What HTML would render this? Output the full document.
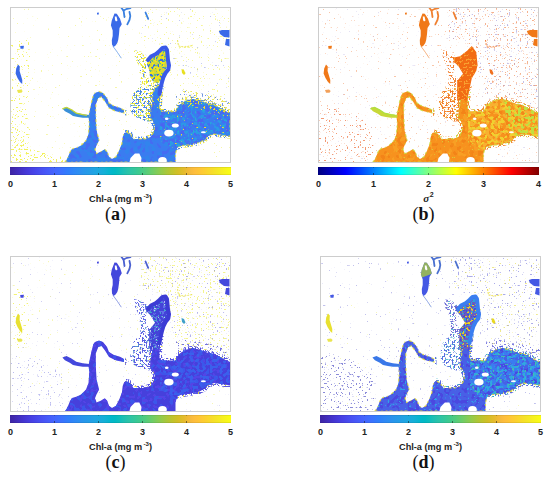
<!DOCTYPE html>
<html><head><meta charset="utf-8"><style>
html,body{margin:0;padding:0;background:#fff;}
body{width:550px;height:479px;position:relative;overflow:hidden;font-family:"Liberation Sans",sans-serif;}
.map{position:absolute;display:block;filter:blur(0.35px);}
.cb{position:absolute;width:221px;height:8px;box-shadow:inset 0 1px 0 rgba(0,0,0,.08),inset 0 -1px 0 rgba(0,0,0,.08);}
.tm{position:absolute;width:1px;background:#111;}
.tk{position:absolute;width:20px;text-align:center;font-weight:bold;font-size:9px;line-height:10px;color:#222;}
.lab{position:absolute;width:100px;text-align:center;font-weight:bold;font-size:9.2px;line-height:10px;color:#222;white-space:nowrap;}
.lab sup{font-size:6px;vertical-align:0;position:relative;top:-3.5px;margin-left:1.5px;}
.sig{font-family:"Liberation Serif",serif;font-style:italic;font-size:11px;}
.s2{font-family:"Liberation Sans",sans-serif;font-style:normal;font-size:7px;position:relative;top:-4.5px;margin-left:0.5px;}
.cap{position:absolute;width:60px;text-align:center;font-family:"Liberation Serif",serif;font-size:18px;line-height:20px;color:#111;}
</style></head><body>
<svg class="map" style="left:10px;top:7px" width="221" height="156" viewBox="0 0 221 156">
<defs><filter id="fa1" x="0" y="0" width="100%" height="100%" color-interpolation-filters="sRGB"><feTurbulence type="fractalNoise" baseFrequency="0.55" numOctaves="1" seed="1"/><feColorMatrix type="matrix" values="0 0 0 0 0.941 0 0 0 0 0.941 0 0 0 0 0.439 25.0 0 0 0 -17.80"/></filter><clipPath id="ca2"><polygon points="1.0,1.0 220.0,1.0 220.0,155.0 1.0,155.0"/></clipPath><filter id="fa3" x="0" y="0" width="100%" height="100%" color-interpolation-filters="sRGB"><feTurbulence type="fractalNoise" baseFrequency="0.55" numOctaves="1" seed="2"/><feColorMatrix type="matrix" values="0 0 0 0 0.941 0 0 0 0 0.941 0 0 0 0 0.251 25.0 0 0 0 -15.43"/></filter><clipPath id="ca4"><polygon points="1.0,93.0 14.0,93.0 20.0,123.0 18.0,143.0 1.0,143.0"/></clipPath><filter id="fa5" x="0" y="0" width="100%" height="100%" color-interpolation-filters="sRGB"><feTurbulence type="fractalNoise" baseFrequency="0.5" numOctaves="1" seed="3"/><feColorMatrix type="matrix" values="0 0 0 0 0.941 0 0 0 0 0.941 0 0 0 0 0.251 25.0 0 0 0 -14.89"/></filter><clipPath id="ca6"><polygon points="1.0,141.0 20.0,142.0 35.0,146.0 52.0,150.0 54.0,155.0 1.0,155.0"/></clipPath><filter id="fa7" x="0" y="0" width="100%" height="100%" color-interpolation-filters="sRGB"><feTurbulence type="fractalNoise" baseFrequency="0.55" numOctaves="1" seed="4"/><feColorMatrix type="matrix" values="0 0 0 0 0.941 0 0 0 0 0.941 0 0 0 0 0.314 25.0 0 0 0 -17.03"/></filter><clipPath id="ca8"><polygon points="130.0,1.0 220.0,1.0 220.0,103.0 205.0,97.0 185.0,90.0 170.0,93.0 162.0,73.0 155.0,38.0 130.0,33.0"/></clipPath><filter id="fa9" x="0" y="0" width="100%" height="100%" color-interpolation-filters="sRGB"><feTurbulence type="fractalNoise" baseFrequency="0.55" numOctaves="1" seed="5"/><feColorMatrix type="matrix" values="0 0 0 0 0.502 0 0 0 0 0.565 0 0 0 0 0.878 25.0 0 0 0 -18.04"/></filter><filter id="fa10" x="0" y="0" width="100%" height="100%" color-interpolation-filters="sRGB"><feTurbulence type="fractalNoise" baseFrequency="0.5" numOctaves="1" seed="6"/><feColorMatrix type="matrix" values="0 0 0 0 0.910 0 0 0 0 0.878 0 0 0 0 0.251 25.0 0 0 0 -15.14"/></filter><clipPath id="ca11"><polygon points="165.0,86.0 175.0,83.0 185.0,84.0 195.0,87.0 205.0,89.0 215.0,91.0 221.0,94.0 221.0,105.0 210.0,99.0 190.0,93.0 175.0,93.0 168.0,97.0"/></clipPath><filter id="fa12" x="0" y="0" width="100%" height="100%" color-interpolation-filters="sRGB"><feTurbulence type="fractalNoise" baseFrequency="0.5" numOctaves="1" seed="7"/><feColorMatrix type="matrix" values="0 0 0 0 0.314 0 0 0 0 0.502 0 0 0 0 0.910 25.0 0 0 0 -16.16"/></filter><filter id="fa13" x="0" y="0" width="100%" height="100%" color-interpolation-filters="sRGB"><feTurbulence type="fractalNoise" baseFrequency="0.55" numOctaves="1" seed="8"/><feColorMatrix type="matrix" values="0 0 0 0 0.941 0 0 0 0 0.941 0 0 0 0 0.251 25.0 0 0 0 -16.40"/></filter><clipPath id="ca14"><polygon points="1.0,33.0 20.0,33.0 20.0,93.0 1.0,93.0"/></clipPath><filter id="fa15" x="0" y="0" width="100%" height="100%" color-interpolation-filters="sRGB"><feTurbulence type="fractalNoise" baseFrequency="0.55" numOctaves="1" seed="9"/><feColorMatrix type="matrix" values="0 0 0 0 0.925 0 0 0 0 0.910 0 0 0 0 0.125 25.0 0 0 0 -13.40"/></filter><clipPath id="ca16"><polygon points="124.0,43.0 132.0,45.0 138.0,50.0 136.0,59.0 136.0,68.0 140.0,73.0 148.0,75.0 151.0,80.0 145.0,81.0 130.0,81.0 130.0,79.0 131.0,69.0 129.0,59.0 125.0,51.0"/></clipPath><filter id="fa17" x="0" y="0" width="100%" height="100%" color-interpolation-filters="sRGB"><feTurbulence type="fractalNoise" baseFrequency="0.6" numOctaves="1" seed="10"/><feColorMatrix type="matrix" values="0 0 0 0 0.227 0 0 0 0 0.471 0 0 0 0 0.941 25.0 0 0 0 -16.16"/></filter><filter id="fa18" x="0" y="0" width="100%" height="100%" color-interpolation-filters="sRGB"><feTurbulence type="fractalNoise" baseFrequency="0.5" numOctaves="1" seed="11"/><feColorMatrix type="matrix" values="0 0 0 0 0.925 0 0 0 0 0.910 0 0 0 0 0.125 25.0 0 0 0 -13.40"/></filter><clipPath id="ca19"><polygon points="128.0,81.0 145.0,81.0 143.0,86.0 142.5,93.0 141.0,103.0 140.0,111.0 142.8,114.1 136.0,114.5 130.0,112.0 124.0,109.0 120.0,103.0 121.0,93.0 124.0,85.0"/></clipPath><filter id="fa20" x="0" y="0" width="100%" height="100%" color-interpolation-filters="sRGB"><feTurbulence type="fractalNoise" baseFrequency="0.5" numOctaves="1" seed="12"/><feColorMatrix type="matrix" values="0 0 0 0 0.227 0 0 0 0 0.471 0 0 0 0 0.941 25.0 0 0 0 -13.80"/></filter><filter id="fa21" x="0" y="0" width="100%" height="100%" color-interpolation-filters="sRGB"><feTurbulence type="fractalNoise" baseFrequency="0.6" numOctaves="1" seed="13"/><feColorMatrix type="matrix" values="0 0 0 0 0.439 0 0 0 0 0.753 0 0 0 0 0.565 25.0 0 0 0 -15.76"/></filter><mask id="ma22"><polygon points="55.0,155.0 56.5,153.0 58.0,150.0 60.0,145.0 62.0,142.0 67.0,140.5 71.0,138.5 76.0,133.5 78.5,127.0 79.3,116.0 78.5,110.0 80.0,102.0 81.8,94.0 83.4,88.0 85.0,86.0 89.0,84.5 93.0,86.0 97.0,91.0 99.0,96.0 104.0,99.0 110.0,100.8 114.0,103.0 114.0,106.0 109.0,105.0 105.0,104.0 99.0,101.0 95.0,94.5 91.5,90.0 88.3,91.0 85.8,97.5 85.8,110.6 86.6,123.6 89.1,133.4 86.6,138.3 85.0,142.3 86.6,146.4 90.7,144.8 94.8,142.3 97.2,144.8 99.0,149.7 102.0,152.0 106.0,149.7 109.4,143.0 111.9,136.6 112.7,130.0 114.3,126.0 116.8,125.2 120.0,127.0 123.5,132.0 130.7,132.0 135.4,131.9 140.7,129.8 143.8,124.6 144.8,119.3 142.8,114.1 140.0,111.0 141.0,103.0 142.5,93.0 143.0,86.0 145.0,81.0 148.0,79.0 151.0,80.0 150.2,88.0 149.5,97.0 149.5,102.0 152.0,104.5 160.5,104.6 165.3,104.8 169.1,98.0 175.0,94.1 182.7,92.1 190.5,94.1 198.3,97.0 204.1,98.0 209.0,100.5 213.6,103.0 217.3,105.0 220.0,106.0 220.0,129.4 211.9,128.1 204.1,127.1 198.3,129.0 194.4,132.9 188.6,135.8 178.9,137.8 171.1,138.8 167.2,140.7 165.5,146.5 165.5,155.0" fill="none" stroke="#fff" stroke-width="5"/></mask><filter id="fa23" x="0" y="0" width="100%" height="100%" color-interpolation-filters="sRGB"><feTurbulence type="fractalNoise" baseFrequency="0.6" numOctaves="1" seed="14"/><feColorMatrix type="matrix" values="0 0 0 0 0.910 0 0 0 0 0.878 0 0 0 0 0.188 25.0 0 0 0 -13.40"/></filter><filter id="fa24" x="0" y="0" width="100%" height="100%" color-interpolation-filters="sRGB"><feTurbulence type="fractalNoise" baseFrequency="0.6" numOctaves="1" seed="15"/><feColorMatrix type="matrix" values="0 0 0 0 0.227 0 0 0 0 0.486 0 0 0 0 0.941 25.0 0 0 0 -13.80"/></filter><clipPath id="ca25"><polygon points="115.0,73.0 221.0,73.0 221.0,133.0 175.0,141.0 166.0,143.0 140.0,135.0 115.0,128.0"/></clipPath><filter id="fa26" x="0" y="0" width="100%" height="100%" color-interpolation-filters="sRGB"><feTurbulence type="fractalNoise" baseFrequency="0.2" numOctaves="1" seed="16"/><feColorMatrix type="matrix" values="0 0 0 0 0.188 0 0 0 0 0.533 0 0 0 0 0.925 25.0 0 0 0 -13.40"/></filter><clipPath id="ca27"><polygon points="55.0,155.0 56.5,153.0 58.0,150.0 60.0,145.0 62.0,142.0 67.0,140.5 71.0,138.5 76.0,133.5 78.5,127.0 79.3,116.0 78.5,110.0 80.0,102.0 81.8,94.0 83.4,88.0 85.0,86.0 89.0,84.5 93.0,86.0 97.0,91.0 99.0,96.0 104.0,99.0 110.0,100.8 114.0,103.0 114.0,106.0 109.0,105.0 105.0,104.0 99.0,101.0 95.0,94.5 91.5,90.0 88.3,91.0 85.8,97.5 85.8,110.6 86.6,123.6 89.1,133.4 86.6,138.3 85.0,142.3 86.6,146.4 90.7,144.8 94.8,142.3 97.2,144.8 99.0,149.7 102.0,152.0 106.0,149.7 109.4,143.0 111.9,136.6 112.7,130.0 114.3,126.0 116.8,125.2 120.0,127.0 123.5,132.0 130.7,132.0 135.4,131.9 140.7,129.8 143.8,124.6 144.8,119.3 142.8,114.1 140.0,111.0 141.0,103.0 142.5,93.0 143.0,86.0 145.0,81.0 148.0,79.0 151.0,80.0 150.2,88.0 149.5,97.0 149.5,102.0 152.0,104.5 160.5,104.6 165.3,104.8 169.1,98.0 175.0,94.1 182.7,92.1 190.5,94.1 198.3,97.0 204.1,98.0 209.0,100.5 213.6,103.0 217.3,105.0 220.0,106.0 220.0,129.4 211.9,128.1 204.1,127.1 198.3,129.0 194.4,132.9 188.6,135.8 178.9,137.8 171.1,138.8 167.2,140.7 165.5,146.5 165.5,155.0"/></clipPath><filter id="fa28" x="0" y="0" width="100%" height="100%" color-interpolation-filters="sRGB"><feTurbulence type="fractalNoise" baseFrequency="0.25" numOctaves="1" seed="17"/><feColorMatrix type="matrix" values="0 0 0 0 0.290 0 0 0 0 0.400 0 0 0 0 0.949 25.0 0 0 0 -14.25"/></filter><filter id="fa29" x="0" y="0" width="100%" height="100%" color-interpolation-filters="sRGB"><feTurbulence type="fractalNoise" baseFrequency="0.25" numOctaves="1" seed="18"/><feColorMatrix type="matrix" values="0 0 0 0 0.165 0 0 0 0 0.627 0 0 0 0 0.894 25.0 0 0 0 -14.07"/></filter><clipPath id="ca30"><polygon points="150.0,88.0 221.0,88.0 221.0,133.0 195.0,135.0 165.0,143.0 150.0,133.0"/></clipPath><filter id="fa31" x="0" y="0" width="100%" height="100%" color-interpolation-filters="sRGB"><feTurbulence type="fractalNoise" baseFrequency="0.25" numOctaves="1" seed="19"/><feColorMatrix type="matrix" values="0 0 0 0 0.314 0 0 0 0 0.376 0 0 0 0 0.941 25.0 0 0 0 -14.45"/></filter><filter id="fa32" x="0" y="0" width="100%" height="100%" color-interpolation-filters="sRGB"><feTurbulence type="fractalNoise" baseFrequency="0.4" numOctaves="1" seed="20"/><feColorMatrix type="matrix" values="0 0 0 0 0.133 0 0 0 0 0.722 0 0 0 0 0.816 25.0 0 0 0 -16.40"/></filter><filter id="fa33" x="0" y="0" width="100%" height="100%" color-interpolation-filters="sRGB"><feTurbulence type="fractalNoise" baseFrequency="0.55" numOctaves="1" seed="21"/><feColorMatrix type="matrix" values="0 0 0 0 0.910 0 0 0 0 0.878 0 0 0 0 0.188 25.0 0 0 0 -17.49"/></filter><filter id="fa34" x="0" y="0" width="100%" height="100%" color-interpolation-filters="sRGB"><feTurbulence type="fractalNoise" baseFrequency="0.5" numOctaves="1" seed="22"/><feColorMatrix type="matrix" values="0 0 0 0 0.910 0 0 0 0 0.878 0 0 0 0 0.188 25.0 0 0 0 -14.77"/></filter><clipPath id="ca35"><polygon points="140.0,91.0 220.0,91.0 220.0,111.0 190.0,101.0 170.0,99.0 150.0,105.0"/></clipPath><filter id="fa36" x="0" y="0" width="100%" height="100%" color-interpolation-filters="sRGB"><feTurbulence type="fractalNoise" baseFrequency="0.4" numOctaves="1" seed="23"/><feColorMatrix type="matrix" values="0 0 0 0 0.227 0 0 0 0 0.439 0 0 0 0 0.910 25.0 0 0 0 -14.25"/></filter><clipPath id="ca37"><polygon points="139.0,52.0 142.0,50.0 147.0,48.0 150.0,45.5 153.0,43.0 155.5,43.0 156.0,48.0 156.5,55.0 157.0,59.0 155.0,64.0 152.5,69.0 151.0,73.0 148.0,76.0 143.0,74.0 140.0,70.0 139.5,64.0 137.0,57.0"/></clipPath><filter id="fa38" x="0" y="0" width="100%" height="100%" color-interpolation-filters="sRGB"><feTurbulence type="fractalNoise" baseFrequency="0.45" numOctaves="1" seed="24"/><feColorMatrix type="matrix" values="0 0 0 0 0.376 0 0 0 0 0.753 0 0 0 0 0.502 25.0 0 0 0 -14.45"/></filter><filter id="fa39" x="0" y="0" width="100%" height="100%" color-interpolation-filters="sRGB"><feTurbulence type="fractalNoise" baseFrequency="0.4" numOctaves="1" seed="25"/><feColorMatrix type="matrix" values="0 0 0 0 0.941 0 0 0 0 0.910 0 0 0 0 0.094 25.0 0 0 0 -13.80"/></filter></defs>
<rect x="1.0" y="1.0" width="219.0" height="154.0" clip-path="url(#ca2)" filter="url(#fa1)" opacity="0.60"/>
<rect x="1.0" y="93.0" width="19.0" height="50.0" clip-path="url(#ca4)" filter="url(#fa3)" opacity="0.80"/>
<rect x="1.0" y="141.0" width="53.0" height="14.0" clip-path="url(#ca6)" filter="url(#fa5)" opacity="0.85"/>
<rect x="130.0" y="1.0" width="90.0" height="102.0" clip-path="url(#ca8)" filter="url(#fa7)" opacity="0.60"/>
<rect x="130.0" y="1.0" width="90.0" height="102.0" clip-path="url(#ca8)" filter="url(#fa9)" opacity="0.50"/>
<rect x="165.0" y="83.0" width="55.0" height="22.0" clip-path="url(#ca11)" filter="url(#fa10)" opacity="0.80"/>
<rect x="165.0" y="83.0" width="55.0" height="22.0" clip-path="url(#ca11)" filter="url(#fa12)" opacity="0.80"/>
<rect x="1.0" y="33.0" width="19.0" height="60.0" clip-path="url(#ca14)" filter="url(#fa13)" opacity="0.80"/>
<rect x="124.0" y="43.0" width="27.0" height="38.0" clip-path="url(#ca16)" filter="url(#fa15)" opacity="0.90"/>
<rect x="124.0" y="43.0" width="27.0" height="38.0" clip-path="url(#ca16)" filter="url(#fa17)" opacity="0.80"/>
<rect x="120.0" y="81.0" width="25.0" height="33.5" clip-path="url(#ca19)" filter="url(#fa18)" opacity="0.90"/>
<rect x="120.0" y="81.0" width="25.0" height="33.5" clip-path="url(#ca19)" filter="url(#fa20)" opacity="0.90"/>
<rect x="120.0" y="81.0" width="25.0" height="33.5" clip-path="url(#ca19)" filter="url(#fa21)" opacity="0.80"/>
<g clip-path="url(#ca25)"><g mask="url(#ma22)"><rect x="1.0" y="1.0" width="219.0" height="154.0" clip-path="url(#ca2)" filter="url(#fa23)" opacity="0.90"/><rect x="1.0" y="1.0" width="219.0" height="154.0" clip-path="url(#ca2)" filter="url(#fa24)" opacity="0.90"/></g></g>
<polygon points="55.0,155.0 56.5,153.0 58.0,150.0 60.0,145.0 62.0,142.0 67.0,140.5 71.0,138.5 76.0,133.5 78.5,127.0 79.3,116.0 78.5,110.0 80.0,102.0 81.8,94.0 83.4,88.0 85.0,86.0 89.0,84.5 93.0,86.0 97.0,91.0 99.0,96.0 104.0,99.0 110.0,100.8 114.0,103.0 114.0,106.0 109.0,105.0 105.0,104.0 99.0,101.0 95.0,94.5 91.5,90.0 88.3,91.0 85.8,97.5 85.8,110.6 86.6,123.6 89.1,133.4 86.6,138.3 85.0,142.3 86.6,146.4 90.7,144.8 94.8,142.3 97.2,144.8 99.0,149.7 102.0,152.0 106.0,149.7 109.4,143.0 111.9,136.6 112.7,130.0 114.3,126.0 116.8,125.2 120.0,127.0 123.5,132.0 130.7,132.0 135.4,131.9 140.7,129.8 143.8,124.6 144.8,119.3 142.8,114.1 140.0,111.0 141.0,103.0 142.5,93.0 143.0,86.0 145.0,81.0 148.0,79.0 151.0,80.0 150.2,88.0 149.5,97.0 149.5,102.0 152.0,104.5 160.5,104.6 165.3,104.8 169.1,98.0 175.0,94.1 182.7,92.1 190.5,94.1 198.3,97.0 204.1,98.0 209.0,100.5 213.6,103.0 217.3,105.0 220.0,106.0 220.0,129.4 211.9,128.1 204.1,127.1 198.3,129.0 194.4,132.9 188.6,135.8 178.9,137.8 171.1,138.8 167.2,140.7 165.5,146.5 165.5,155.0" fill="#3a7cf0"/>
<g clip-path="url(#ca27)"><rect x="55.0" y="79.0" width="165.0" height="76.0" clip-path="url(#ca27)" filter="url(#fa26)" opacity="0.70"/><rect x="55.0" y="79.0" width="165.0" height="76.0" clip-path="url(#ca27)" filter="url(#fa28)" opacity="0.70"/><rect x="150.0" y="88.0" width="70.0" height="55.0" clip-path="url(#ca30)" filter="url(#fa29)" opacity="0.80"/><rect x="150.0" y="88.0" width="70.0" height="55.0" clip-path="url(#ca30)" filter="url(#fa31)" opacity="0.80"/><rect x="150.0" y="88.0" width="70.0" height="55.0" clip-path="url(#ca30)" filter="url(#fa32)" opacity="0.80"/><rect x="150.0" y="88.0" width="70.0" height="55.0" clip-path="url(#ca30)" filter="url(#fa33)"/><rect x="140.0" y="91.0" width="80.0" height="20.0" clip-path="url(#ca35)" filter="url(#fa34)"/></g>
<polygon points="55.0,155.0 56.5,153.0 58.0,150.0 60.0,145.0 62.0,142.0 67.0,140.5 71.0,138.5 76.0,133.5 78.5,127.0 79.3,116.0 78.5,110.0 80.0,102.0 81.8,94.0 83.4,88.0 85.0,86.0 89.0,84.5 93.0,86.0 97.0,91.0 99.0,96.0 104.0,99.0 110.0,100.8 114.0,103.0 114.0,106.0 109.0,105.0 105.0,104.0 99.0,101.0 95.0,94.5 91.5,90.0 88.3,91.0 85.8,97.5 85.8,110.6 86.6,123.6 89.1,133.4 86.6,138.3 85.0,142.3 86.6,146.4 90.7,144.8 94.8,142.3 97.2,144.8 99.0,149.7 102.0,152.0 106.0,149.7 109.4,143.0 111.9,136.6 112.7,130.0 114.3,126.0 116.8,125.2 120.0,127.0 123.5,132.0 130.7,132.0 135.4,131.9 140.7,129.8 143.8,124.6 144.8,119.3 142.8,114.1 140.0,111.0 141.0,103.0 142.5,93.0 143.0,86.0 145.0,81.0 148.0,79.0 151.0,80.0 150.2,88.0 149.5,97.0 149.5,102.0 152.0,104.5 160.5,104.6 165.3,104.8 169.1,98.0 175.0,94.1 182.7,92.1 190.5,94.1 198.3,97.0 204.1,98.0 209.0,100.5 213.6,103.0 217.3,105.0 220.0,106.0 220.0,129.4 211.9,128.1 204.1,127.1 198.3,129.0 194.4,132.9 188.6,135.8 178.9,137.8 171.1,138.8 167.2,140.7 165.5,146.5 165.5,155.0" fill="none" stroke="#e8e030" stroke-width="1.2" stroke-dasharray="2 3 1 4 3 2" opacity="0.8"/>
<polygon points="139.0,52.0 142.0,50.0 147.0,48.0 150.0,45.5 153.0,43.0 155.5,43.0 156.0,48.0 156.5,55.0 157.0,59.0 155.0,64.0 152.5,69.0 151.0,73.0 148.0,76.0 143.0,74.0 140.0,70.0 139.5,64.0 137.0,57.0" fill="#d4d43a"/>
<rect x="137.0" y="43.0" width="20.0" height="33.0" clip-path="url(#ca37)" filter="url(#fa36)"/>
<rect x="137.0" y="43.0" width="20.0" height="33.0" clip-path="url(#ca37)" filter="url(#fa38)"/>
<rect x="137.0" y="43.0" width="20.0" height="33.0" clip-path="url(#ca37)" filter="url(#fa39)"/>
<polyline points="138.0,53.0 141.0,49.5 146.0,47.0 149.5,44.0 152.5,41.0 155.5,40.5 157.0,43.0 157.5,48.0 158.0,53.5 159.0,58.5 158.3,62.5 155.5,66.0 153.5,70.0 152.0,75.0 150.5,81.0 149.5,87.0" fill="none" stroke="#3a5ae8" stroke-width="4" stroke-linejoin="round" stroke-linecap="round"/>
<polygon points="104.5,6.4 106.8,6.8 110.0,11.8 111.8,17.3 109.5,20.9 109.0,27.3 108.2,33.0 107.3,36.0 105.6,38.5 103.5,40.0 102.0,37.5 101.8,33.0 102.7,29.1 102.7,23.6 100.9,18.2 101.8,13.6" fill="#3a6ae8"/>
<polygon points="208.8,24.0 212.0,22.9 219.5,23.0 219.5,30.5 214.0,30.0 210.0,27.0" fill="#3a6ae8"/>
<polygon points="216.0,32.0 219.5,32.0 219.5,39.6 215.0,38.0" fill="#3a6ae8"/>
<polygon points="10.2,39.0 13.9,38.8 13.5,41.8 10.5,41.8" fill="#3a6ae8"/>
<polygon points="87.0,5.8 88.8,5.6 88.8,7.4 87.0,7.4" fill="#3a6ae8"/>
<polygon points="52.4,101.6 56.5,100.0 61.4,102.4 66.3,105.7 72.8,107.3 79.3,108.1 79.3,110.8 72.8,110.8 67.9,110.0 63.0,109.0 59.8,106.8 54.9,104.3" fill="#3a90d8"/>
<polyline points="52.4,101.9 56.5,100.4 61.4,102.8 66.3,106.1 72.8,107.7 77.0,108.4" fill="none" stroke="#c8d830" stroke-width="1.2"/>
<polygon points="8.0,57.5 9.8,59.5 9.6,64.0 10.8,68.0 12.3,73.0 12.2,77.0 10.0,75.0 7.5,71.0 5.6,66.5 6.2,61.5" fill="#3a6ae8"/>
<polygon points="7.0,83.0 11.0,82.5 12.7,84.0 11.5,85.8 8.0,85.8" fill="#e8e030" opacity="0.85"/>
<polyline points="103.0,39.5 105.0,42.0 107.5,45.5 111.3,51.2" fill="none" stroke="#3a80e0" stroke-width="1" opacity="0.6"/>
<polygon points="171.5,62.0 174.0,63.0 175.5,66.5 174.0,68.0 172.0,66.0" fill="#e8e020"/>
<polyline points="167.5,33.0 168.5,39.0 174.0,40.0 180.0,39.0 183.0,38.5" fill="none" stroke="#e8e020" stroke-width="1" stroke-dasharray="2 1" opacity="0.8"/>
<polygon points="104.8,9.5 106.5,9.5 107.5,13.5 106.0,14.5 105.0,13.0" fill="#fff"/>
<polyline points="111.5,1.0 113.6,3.6 114.5,10.0" fill="none" stroke="#3a80e0" stroke-width="1.8" stroke-linecap="round"/>
<polyline points="113.5,3.5 117.0,1.8 120.5,1.0" fill="none" stroke="#3a80e0" stroke-width="1.8" stroke-linecap="round"/>
<polyline points="119.5,5.0 120.3,9.0 119.5,13.0 117.3,17.3" fill="none" stroke="#3a80e0" stroke-width="1.8" stroke-linecap="round"/>
<polyline points="135.5,5.5 138.2,11.8" fill="none" stroke="#3a80e0" stroke-width="1.8" stroke-linecap="round"/>
<ellipse cx="165.3" cy="118.4" rx="3.5" ry="2.0" fill="#fff"/><ellipse cx="158.9" cy="126.1" rx="4.7" ry="3.4" fill="#fff"/><ellipse cx="156.7" cy="111.8" rx="1.8" ry="1.3" fill="#fff"/><ellipse cx="193.4" cy="125.2" rx="2.5" ry="1.0" fill="#fff"/><ellipse cx="152.5" cy="153.5" rx="4.3" ry="3.5" fill="#fff"/><polygon points="120.5,151.0 124.9,146.6 129.3,146.6 131.5,151.0 131.0,155.0 119.5,155.0" fill="#fff"/>
<rect x="0.5" y="0.5" width="220" height="155" fill="none" stroke="#cdcdcd" stroke-width="1"/>
</svg>
<div class="cb" style="left:10px;top:167px;background:linear-gradient(to right,#3e26a8 0.78%,#402ab4 2.34%,#422ec0 3.91%,#4332cb 5.47%,#4537d5 7.03%,#463cde 8.59%,#4741e5 10.16%,#4747eb 11.72%,#484df0 13.28%,#4852f4 14.84%,#4758f8 16.41%,#465efb 17.97%,#4563fd 19.53%,#4269fe 21.09%,#3e6fff 22.66%,#3875fe 24.22%,#327cfc 25.78%,#2f81fa 27.34%,#2e87f7 28.91%,#2d8cf3 30.47%,#2b91ef 32.03%,#2797eb 33.59%,#259be8 35.16%,#23a0e5 36.72%,#20a5e3 38.28%,#1ca9df 39.84%,#18addb 41.41%,#12b1d6 42.97%,#08b5d0 44.53%,#01b8ca 46.09%,#02bac3 47.66%,#0bbdbd 49.22%,#19bfb6 50.78%,#24c1ae 52.34%,#2cc4a7 53.91%,#31c69f 55.47%,#37c897 57.03%,#3fca8e 58.59%,#4acb84 60.16%,#57cc7a 61.72%,#64cd6f 63.28%,#72cd64 64.84%,#81cc59 66.41%,#8fcb4e 67.97%,#9dc943 69.53%,#abc739 71.09%,#b9c431 72.66%,#c5c22a 74.22%,#d1bf27 75.78%,#dcbd29 77.34%,#e6bb2d 78.91%,#f0ba36 80.47%,#f8ba3d 82.03%,#febe3c 83.59%,#fec338 85.16%,#fec934 86.72%,#fccf30 88.28%,#fad62d 89.84%,#f7dc2a 91.41%,#f5e327 92.97%,#f5e924 94.53%,#f6ef20 96.09%,#f7f51b 97.66%,#f9fb15 99.22%)"></div>
<div class="tm" style="left:54.0px;top:173px;height:2px;opacity:.5"></div>
<div class="tm" style="left:54.0px;top:167px;height:1px;opacity:.25"></div>
<div class="tm" style="left:98.0px;top:173px;height:2px;opacity:.5"></div>
<div class="tm" style="left:98.0px;top:167px;height:1px;opacity:.25"></div>
<div class="tm" style="left:142.0px;top:173px;height:2px;opacity:.5"></div>
<div class="tm" style="left:142.0px;top:167px;height:1px;opacity:.25"></div>
<div class="tm" style="left:186.0px;top:173px;height:2px;opacity:.5"></div>
<div class="tm" style="left:186.0px;top:167px;height:1px;opacity:.25"></div>
<div class="tk" style="left:0.5px;top:179.0px">0</div>
<div class="tk" style="left:44.5px;top:179.0px">1</div>
<div class="tk" style="left:88.5px;top:179.0px">2</div>
<div class="tk" style="left:132.5px;top:179.0px">3</div>
<div class="tk" style="left:176.5px;top:179.0px">4</div>
<div class="tk" style="left:220.5px;top:179.0px">5</div>
<div class="lab" style="left:70.5px;top:193.5px">Chl-a (mg m<sup>-3</sup>)</div>
<div class="cap" style="left:85.5px;top:203.7px">(<b>a</b>)</div>
<svg class="map" style="left:318px;top:7px" width="221" height="156" viewBox="0 0 221 156">
<defs><filter id="fb1" x="0" y="0" width="100%" height="100%" color-interpolation-filters="sRGB"><feTurbulence type="fractalNoise" baseFrequency="0.55" numOctaves="1" seed="26"/><feColorMatrix type="matrix" values="0 0 0 0 0.957 0 0 0 0 0.627 0 0 0 0 0.439 25.0 0 0 0 -17.49"/></filter><clipPath id="cb2"><polygon points="1.0,1.0 220.0,1.0 220.0,155.0 1.0,155.0"/></clipPath><filter id="fb3" x="0" y="0" width="100%" height="100%" color-interpolation-filters="sRGB"><feTurbulence type="fractalNoise" baseFrequency="0.55" numOctaves="1" seed="27"/><feColorMatrix type="matrix" values="0 0 0 0 0.784 0 0 0 0 0.753 0 0 0 0 0.910 25.0 0 0 0 -18.04"/></filter><filter id="fb4" x="0" y="0" width="100%" height="100%" color-interpolation-filters="sRGB"><feTurbulence type="fractalNoise" baseFrequency="0.55" numOctaves="1" seed="28"/><feColorMatrix type="matrix" values="0 0 0 0 0.941 0 0 0 0 0.502 0 0 0 0 0.314 25.0 0 0 0 -16.40"/></filter><clipPath id="cb5"><polygon points="1.0,98.0 30.0,103.0 52.0,118.0 56.0,143.0 52.0,155.0 1.0,155.0"/></clipPath><filter id="fb6" x="0" y="0" width="100%" height="100%" color-interpolation-filters="sRGB"><feTurbulence type="fractalNoise" baseFrequency="0.55" numOctaves="1" seed="29"/><feColorMatrix type="matrix" values="0 0 0 0 0.941 0 0 0 0 0.565 0 0 0 0 0.376 25.0 0 0 0 -16.40"/></filter><clipPath id="cb7"><polygon points="130.0,1.0 220.0,1.0 220.0,103.0 205.0,97.0 185.0,90.0 170.0,93.0 162.0,73.0 155.0,38.0 130.0,33.0"/></clipPath><filter id="fb8" x="0" y="0" width="100%" height="100%" color-interpolation-filters="sRGB"><feTurbulence type="fractalNoise" baseFrequency="0.55" numOctaves="1" seed="30"/><feColorMatrix type="matrix" values="0 0 0 0 0.627 0 0 0 0 0.596 0 0 0 0 0.847 25.0 0 0 0 -17.03"/></filter><filter id="fb9" x="0" y="0" width="100%" height="100%" color-interpolation-filters="sRGB"><feTurbulence type="fractalNoise" baseFrequency="0.6" numOctaves="1" seed="31"/><feColorMatrix type="matrix" values="0 0 0 0 0.941 0 0 0 0 0.439 0 0 0 0 0.094 25.0 0 0 0 -14.25"/></filter><clipPath id="cb10"><polygon points="124.0,43.0 132.0,45.0 138.0,50.0 136.0,59.0 136.0,68.0 140.0,73.0 148.0,75.0 151.0,80.0 145.0,81.0 130.0,81.0 130.0,79.0 131.0,69.0 129.0,59.0 125.0,51.0"/></clipPath><filter id="fb11" x="0" y="0" width="100%" height="100%" color-interpolation-filters="sRGB"><feTurbulence type="fractalNoise" baseFrequency="0.5" numOctaves="1" seed="32"/><feColorMatrix type="matrix" values="0 0 0 0 0.941 0 0 0 0 0.439 0 0 0 0 0.094 25.0 0 0 0 -12.68"/></filter><clipPath id="cb12"><polygon points="128.0,81.0 145.0,81.0 143.0,86.0 142.5,93.0 141.0,103.0 140.0,111.0 142.8,114.1 136.0,114.5 130.0,112.0 124.0,109.0 120.0,103.0 121.0,93.0 124.0,85.0"/></clipPath><filter id="fb13" x="0" y="0" width="100%" height="100%" color-interpolation-filters="sRGB"><feTurbulence type="fractalNoise" baseFrequency="0.6" numOctaves="1" seed="33"/><feColorMatrix type="matrix" values="0 0 0 0 0.973 0 0 0 0 0.690 0 0 0 0 0.251 25.0 0 0 0 -15.43"/></filter><mask id="mb14"><polygon points="55.0,155.0 56.5,153.0 58.0,150.0 60.0,145.0 62.0,142.0 67.0,140.5 71.0,138.5 76.0,133.5 78.5,127.0 79.3,116.0 78.5,110.0 80.0,102.0 81.8,94.0 83.4,88.0 85.0,86.0 89.0,84.5 93.0,86.0 97.0,91.0 99.0,96.0 104.0,99.0 110.0,100.8 114.0,103.0 114.0,106.0 109.0,105.0 105.0,104.0 99.0,101.0 95.0,94.5 91.5,90.0 88.3,91.0 85.8,97.5 85.8,110.6 86.6,123.6 89.1,133.4 86.6,138.3 85.0,142.3 86.6,146.4 90.7,144.8 94.8,142.3 97.2,144.8 99.0,149.7 102.0,152.0 106.0,149.7 109.4,143.0 111.9,136.6 112.7,130.0 114.3,126.0 116.8,125.2 120.0,127.0 123.5,132.0 130.7,132.0 135.4,131.9 140.7,129.8 143.8,124.6 144.8,119.3 142.8,114.1 140.0,111.0 141.0,103.0 142.5,93.0 143.0,86.0 145.0,81.0 148.0,79.0 151.0,80.0 150.2,88.0 149.5,97.0 149.5,102.0 152.0,104.5 160.5,104.6 165.3,104.8 169.1,98.0 175.0,94.1 182.7,92.1 190.5,94.1 198.3,97.0 204.1,98.0 209.0,100.5 213.6,103.0 217.3,105.0 220.0,106.0 220.0,129.4 211.9,128.1 204.1,127.1 198.3,129.0 194.4,132.9 188.6,135.8 178.9,137.8 171.1,138.8 167.2,140.7 165.5,146.5 165.5,155.0" fill="none" stroke="#fff" stroke-width="5"/></mask><filter id="fb15" x="0" y="0" width="100%" height="100%" color-interpolation-filters="sRGB"><feTurbulence type="fractalNoise" baseFrequency="0.6" numOctaves="1" seed="34"/><feColorMatrix type="matrix" values="0 0 0 0 0.941 0 0 0 0 0.502 0 0 0 0 0.125 25.0 0 0 0 -13.03"/></filter><filter id="fb16" x="0" y="0" width="100%" height="100%" color-interpolation-filters="sRGB"><feTurbulence type="fractalNoise" baseFrequency="0.6" numOctaves="1" seed="35"/><feColorMatrix type="matrix" values="0 0 0 0 0.784 0 0 0 0 0.878 0 0 0 0 0.251 25.0 0 0 0 -15.43"/></filter><clipPath id="cb17"><polygon points="115.0,73.0 221.0,73.0 221.0,133.0 175.0,141.0 166.0,143.0 140.0,135.0 115.0,128.0"/></clipPath><filter id="fb18" x="0" y="0" width="100%" height="100%" color-interpolation-filters="sRGB"><feTurbulence type="fractalNoise" baseFrequency="0.2" numOctaves="1" seed="36"/><feColorMatrix type="matrix" values="0 0 0 0 0.973 0 0 0 0 0.659 0 0 0 0 0.157 25.0 0 0 0 -14.07"/></filter><clipPath id="cb19"><polygon points="55.0,155.0 56.5,153.0 58.0,150.0 60.0,145.0 62.0,142.0 67.0,140.5 71.0,138.5 76.0,133.5 78.5,127.0 79.3,116.0 78.5,110.0 80.0,102.0 81.8,94.0 83.4,88.0 85.0,86.0 89.0,84.5 93.0,86.0 97.0,91.0 99.0,96.0 104.0,99.0 110.0,100.8 114.0,103.0 114.0,106.0 109.0,105.0 105.0,104.0 99.0,101.0 95.0,94.5 91.5,90.0 88.3,91.0 85.8,97.5 85.8,110.6 86.6,123.6 89.1,133.4 86.6,138.3 85.0,142.3 86.6,146.4 90.7,144.8 94.8,142.3 97.2,144.8 99.0,149.7 102.0,152.0 106.0,149.7 109.4,143.0 111.9,136.6 112.7,130.0 114.3,126.0 116.8,125.2 120.0,127.0 123.5,132.0 130.7,132.0 135.4,131.9 140.7,129.8 143.8,124.6 144.8,119.3 142.8,114.1 140.0,111.0 141.0,103.0 142.5,93.0 143.0,86.0 145.0,81.0 148.0,79.0 151.0,80.0 150.2,88.0 149.5,97.0 149.5,102.0 152.0,104.5 160.5,104.6 165.3,104.8 169.1,98.0 175.0,94.1 182.7,92.1 190.5,94.1 198.3,97.0 204.1,98.0 209.0,100.5 213.6,103.0 217.3,105.0 220.0,106.0 220.0,129.4 211.9,128.1 204.1,127.1 198.3,129.0 194.4,132.9 188.6,135.8 178.9,137.8 171.1,138.8 167.2,140.7 165.5,146.5 165.5,155.0"/></clipPath><filter id="fb20" x="0" y="0" width="100%" height="100%" color-interpolation-filters="sRGB"><feTurbulence type="fractalNoise" baseFrequency="0.25" numOctaves="1" seed="37"/><feColorMatrix type="matrix" values="0 0 0 0 0.941 0 0 0 0 0.486 0 0 0 0 0.078 25.0 0 0 0 -14.25"/></filter><filter id="fb21" x="0" y="0" width="100%" height="100%" color-interpolation-filters="sRGB"><feTurbulence type="fractalNoise" baseFrequency="0.25" numOctaves="1" seed="38"/><feColorMatrix type="matrix" values="0 0 0 0 0.973 0 0 0 0 0.690 0 0 0 0 0.188 25.0 0 0 0 -12.68"/></filter><clipPath id="cb22"><polygon points="150.0,88.0 221.0,88.0 221.0,133.0 195.0,135.0 165.0,143.0 150.0,133.0"/></clipPath><filter id="fb23" x="0" y="0" width="100%" height="100%" color-interpolation-filters="sRGB"><feTurbulence type="fractalNoise" baseFrequency="0.3" numOctaves="1" seed="39"/><feColorMatrix type="matrix" values="0 0 0 0 0.941 0 0 0 0 0.816 0 0 0 0 0.188 25.0 0 0 0 -14.07"/></filter><filter id="fb24" x="0" y="0" width="100%" height="100%" color-interpolation-filters="sRGB"><feTurbulence type="fractalNoise" baseFrequency="0.3" numOctaves="1" seed="40"/><feColorMatrix type="matrix" values="0 0 0 0 0.753 0 0 0 0 0.878 0 0 0 0 0.251 25.0 0 0 0 -13.40"/></filter><clipPath id="cb25"><polygon points="185.0,93.0 221.0,93.0 221.0,133.0 200.0,131.0 190.0,118.0"/></clipPath><filter id="fb26" x="0" y="0" width="100%" height="100%" color-interpolation-filters="sRGB"><feTurbulence type="fractalNoise" baseFrequency="0.5" numOctaves="1" seed="41"/><feColorMatrix type="matrix" values="0 0 0 0 0.816 0 0 0 0 0.878 0 0 0 0 0.251 25.0 0 0 0 -17.80"/></filter><filter id="fb27" x="0" y="0" width="100%" height="100%" color-interpolation-filters="sRGB"><feTurbulence type="fractalNoise" baseFrequency="0.5" numOctaves="1" seed="42"/><feColorMatrix type="matrix" values="0 0 0 0 0.973 0 0 0 0 0.627 0 0 0 0 0.188 25.0 0 0 0 -14.25"/></filter><clipPath id="cb28"><polygon points="153.8,39.0 158.2,44.9 159.6,58.0 158.2,63.9 153.8,71.2 152.3,78.5 150.9,84.3 148.7,93.0 139.2,93.0 139.2,84.3 139.2,74.1 145.0,66.8 140.7,59.5 136.3,55.1 134.8,50.7 142.1,49.3 149.4,43.4"/></clipPath></defs>
<rect x="1.0" y="1.0" width="219.0" height="154.0" clip-path="url(#cb2)" filter="url(#fb1)" opacity="0.60"/>
<rect x="1.0" y="1.0" width="219.0" height="154.0" clip-path="url(#cb2)" filter="url(#fb3)" opacity="0.50"/>
<rect x="1.0" y="98.0" width="55.0" height="57.0" clip-path="url(#cb5)" filter="url(#fb4)" opacity="0.80"/>
<rect x="130.0" y="1.0" width="90.0" height="102.0" clip-path="url(#cb7)" filter="url(#fb6)" opacity="0.70"/>
<rect x="130.0" y="1.0" width="90.0" height="102.0" clip-path="url(#cb7)" filter="url(#fb8)" opacity="0.60"/>
<rect x="124.0" y="43.0" width="27.0" height="38.0" clip-path="url(#cb10)" filter="url(#fb9)" opacity="0.85"/>
<rect x="120.0" y="81.0" width="25.0" height="33.5" clip-path="url(#cb12)" filter="url(#fb11)" opacity="0.90"/>
<rect x="120.0" y="81.0" width="25.0" height="33.5" clip-path="url(#cb12)" filter="url(#fb13)" opacity="0.90"/>
<g clip-path="url(#cb17)"><g mask="url(#mb14)"><rect x="1.0" y="1.0" width="219.0" height="154.0" clip-path="url(#cb2)" filter="url(#fb15)" opacity="0.90"/><rect x="1.0" y="1.0" width="219.0" height="154.0" clip-path="url(#cb2)" filter="url(#fb16)" opacity="0.90"/></g></g>
<polygon points="55.0,155.0 56.5,153.0 58.0,150.0 60.0,145.0 62.0,142.0 67.0,140.5 71.0,138.5 76.0,133.5 78.5,127.0 79.3,116.0 78.5,110.0 80.0,102.0 81.8,94.0 83.4,88.0 85.0,86.0 89.0,84.5 93.0,86.0 97.0,91.0 99.0,96.0 104.0,99.0 110.0,100.8 114.0,103.0 114.0,106.0 109.0,105.0 105.0,104.0 99.0,101.0 95.0,94.5 91.5,90.0 88.3,91.0 85.8,97.5 85.8,110.6 86.6,123.6 89.1,133.4 86.6,138.3 85.0,142.3 86.6,146.4 90.7,144.8 94.8,142.3 97.2,144.8 99.0,149.7 102.0,152.0 106.0,149.7 109.4,143.0 111.9,136.6 112.7,130.0 114.3,126.0 116.8,125.2 120.0,127.0 123.5,132.0 130.7,132.0 135.4,131.9 140.7,129.8 143.8,124.6 144.8,119.3 142.8,114.1 140.0,111.0 141.0,103.0 142.5,93.0 143.0,86.0 145.0,81.0 148.0,79.0 151.0,80.0 150.2,88.0 149.5,97.0 149.5,102.0 152.0,104.5 160.5,104.6 165.3,104.8 169.1,98.0 175.0,94.1 182.7,92.1 190.5,94.1 198.3,97.0 204.1,98.0 209.0,100.5 213.6,103.0 217.3,105.0 220.0,106.0 220.0,129.4 211.9,128.1 204.1,127.1 198.3,129.0 194.4,132.9 188.6,135.8 178.9,137.8 171.1,138.8 167.2,140.7 165.5,146.5 165.5,155.0" fill="#f7921e"/>
<g clip-path="url(#cb19)"><rect x="55.0" y="79.0" width="165.0" height="76.0" clip-path="url(#cb19)" filter="url(#fb18)" opacity="0.60"/><rect x="55.0" y="79.0" width="165.0" height="76.0" clip-path="url(#cb19)" filter="url(#fb20)" opacity="0.60"/><rect x="150.0" y="88.0" width="70.0" height="55.0" clip-path="url(#cb22)" filter="url(#fb21)"/><rect x="150.0" y="88.0" width="70.0" height="55.0" clip-path="url(#cb22)" filter="url(#fb23)"/><rect x="185.0" y="93.0" width="35.0" height="40.0" clip-path="url(#cb25)" filter="url(#fb24)"/><rect x="55.0" y="79.0" width="165.0" height="76.0" clip-path="url(#cb19)" filter="url(#fb26)" opacity="0.70"/></g>
<polygon points="55.0,155.0 56.5,153.0 58.0,150.0 60.0,145.0 62.0,142.0 67.0,140.5 71.0,138.5 76.0,133.5 78.5,127.0 79.3,116.0 78.5,110.0 80.0,102.0 81.8,94.0 83.4,88.0 85.0,86.0 89.0,84.5 93.0,86.0 97.0,91.0 99.0,96.0 104.0,99.0 110.0,100.8 114.0,103.0 114.0,106.0 109.0,105.0 105.0,104.0 99.0,101.0 95.0,94.5 91.5,90.0 88.3,91.0 85.8,97.5 85.8,110.6 86.6,123.6 89.1,133.4 86.6,138.3 85.0,142.3 86.6,146.4 90.7,144.8 94.8,142.3 97.2,144.8 99.0,149.7 102.0,152.0 106.0,149.7 109.4,143.0 111.9,136.6 112.7,130.0 114.3,126.0 116.8,125.2 120.0,127.0 123.5,132.0 130.7,132.0 135.4,131.9 140.7,129.8 143.8,124.6 144.8,119.3 142.8,114.1 140.0,111.0 141.0,103.0 142.5,93.0 143.0,86.0 145.0,81.0 148.0,79.0 151.0,80.0 150.2,88.0 149.5,97.0 149.5,102.0 152.0,104.5 160.5,104.6 165.3,104.8 169.1,98.0 175.0,94.1 182.7,92.1 190.5,94.1 198.3,97.0 204.1,98.0 209.0,100.5 213.6,103.0 217.3,105.0 220.0,106.0 220.0,129.4 211.9,128.1 204.1,127.1 198.3,129.0 194.4,132.9 188.6,135.8 178.9,137.8 171.1,138.8 167.2,140.7 165.5,146.5 165.5,155.0" fill="none" stroke="#c8e040" stroke-width="1.2" stroke-dasharray="2 3 1 4 3 2" opacity="0.8"/>
<polygon points="153.8,39.0 158.2,44.9 159.6,58.0 158.2,63.9 153.8,71.2 152.3,78.5 150.9,84.3 148.7,93.0 139.2,93.0 139.2,84.3 139.2,74.1 145.0,66.8 140.7,59.5 136.3,55.1 134.8,50.7 142.1,49.3 149.4,43.4" fill="#f26c14"/>
<rect x="134.8" y="39.0" width="24.8" height="54.0" clip-path="url(#cb28)" filter="url(#fb27)"/>
<polygon points="104.5,6.4 106.8,6.8 110.0,11.8 111.8,17.3 109.5,20.9 109.0,27.3 108.2,33.0 107.3,36.0 105.6,38.5 103.5,40.0 102.0,37.5 101.8,33.0 102.7,29.1 102.7,23.6 100.9,18.2 101.8,13.6" fill="#f07818"/>
<polygon points="208.8,24.0 212.0,22.9 219.5,23.0 219.5,30.5 214.0,30.0 210.0,27.0" fill="#f07818"/>
<polygon points="216.0,32.0 219.5,32.0 219.5,39.6 215.0,38.0" fill="#f07818"/>
<polygon points="10.2,39.0 13.9,38.8 13.5,41.8 10.5,41.8" fill="#f07818"/>
<polygon points="87.0,5.8 88.8,5.6 88.8,7.4 87.0,7.4" fill="#f07818"/>
<polygon points="52.4,101.6 56.5,100.0 61.4,102.4 66.3,105.7 72.8,107.3 79.3,108.1 79.3,110.8 72.8,110.8 67.9,110.0 63.0,109.0 59.8,106.8 54.9,104.3" fill="#c8d838"/>
<polyline points="52.4,101.9 56.5,100.4 61.4,102.8 66.3,106.1 72.8,107.7 77.0,108.4" fill="none" stroke="#b0e040" stroke-width="1.2"/>
<polygon points="8.0,57.5 9.8,59.5 9.6,64.0 10.8,68.0 12.3,73.0 12.2,77.0 10.0,75.0 7.5,71.0 5.6,66.5 6.2,61.5" fill="#f07818"/>
<polygon points="7.0,83.0 11.0,82.5 12.7,84.0 11.5,85.8 8.0,85.8" fill="#f09040" opacity="0.85"/>
<polyline points="103.0,39.5 105.0,42.0 107.5,45.5 111.3,51.2" fill="none" stroke="#f08030" stroke-width="1" opacity="0.6"/>
<polygon points="171.5,62.0 174.0,63.0 175.5,66.5 174.0,68.0 172.0,66.0" fill="#f07020"/>
<polyline points="167.5,33.0 168.5,39.0 174.0,40.0 180.0,39.0 183.0,38.5" fill="none" stroke="#f07020" stroke-width="1" stroke-dasharray="2 1" opacity="0.8"/>
<polygon points="104.8,9.5 106.5,9.5 107.5,13.5 106.0,14.5 105.0,13.0" fill="#fff"/>
<polyline points="111.5,1.0 113.6,3.6 114.5,10.0" fill="none" stroke="#f08030" stroke-width="1.8" stroke-linecap="round"/>
<polyline points="113.5,3.5 117.0,1.8 120.5,1.0" fill="none" stroke="#f08030" stroke-width="1.8" stroke-linecap="round"/>
<polyline points="119.5,5.0 120.3,9.0 119.5,13.0 117.3,17.3" fill="none" stroke="#f08030" stroke-width="1.8" stroke-linecap="round"/>
<polyline points="135.5,5.5 138.2,11.8" fill="none" stroke="#f08030" stroke-width="1.8" stroke-linecap="round"/>
<ellipse cx="165.3" cy="118.4" rx="3.5" ry="2.0" fill="#fff"/><ellipse cx="158.9" cy="126.1" rx="4.7" ry="3.4" fill="#fff"/><ellipse cx="156.7" cy="111.8" rx="1.8" ry="1.3" fill="#fff"/><ellipse cx="193.4" cy="125.2" rx="2.5" ry="1.0" fill="#fff"/><ellipse cx="152.5" cy="153.5" rx="4.3" ry="3.5" fill="#fff"/><polygon points="120.5,151.0 124.9,146.6 129.3,146.6 131.5,151.0 131.0,155.0 119.5,155.0" fill="#fff"/>
<rect x="0.5" y="0.5" width="220" height="155" fill="none" stroke="#cdcdcd" stroke-width="1"/>
</svg>
<div class="cb" style="left:318px;top:167px;background:linear-gradient(to right,#000080 0%,#0000ff 12.5%,#00ffff 37.5%,#ffff00 62.5%,#ff0000 87.5%,#800000 100%)"></div>
<div class="tm" style="left:373.0px;top:173px;height:2px;opacity:.5"></div>
<div class="tm" style="left:373.0px;top:167px;height:1px;opacity:.25"></div>
<div class="tm" style="left:428.0px;top:173px;height:2px;opacity:.5"></div>
<div class="tm" style="left:428.0px;top:167px;height:1px;opacity:.25"></div>
<div class="tm" style="left:483.0px;top:173px;height:2px;opacity:.5"></div>
<div class="tm" style="left:483.0px;top:167px;height:1px;opacity:.25"></div>
<div class="tk" style="left:308.5px;top:179.0px">0</div>
<div class="tk" style="left:363.5px;top:179.0px">1</div>
<div class="tk" style="left:418.5px;top:179.0px">2</div>
<div class="tk" style="left:473.5px;top:179.0px">3</div>
<div class="tk" style="left:528.5px;top:179.0px">4</div>
<div class="lab sig" style="left:378.5px;top:192.5px">&sigma;<span class="s2">2</span></div>
<div class="cap" style="left:393.5px;top:203.7px">(<b>b</b>)</div>
<svg class="map" style="left:10px;top:255.5px" width="221" height="156" viewBox="0 0 221 156">
<defs><filter id="fc1" x="0" y="0" width="100%" height="100%" color-interpolation-filters="sRGB"><feTurbulence type="fractalNoise" baseFrequency="0.55" numOctaves="1" seed="43"/><feColorMatrix type="matrix" values="0 0 0 0 0.941 0 0 0 0 0.941 0 0 0 0 0.502 25.0 0 0 0 -18.04"/></filter><clipPath id="cc2"><polygon points="1.0,1.0 220.0,1.0 220.0,155.0 1.0,155.0"/></clipPath><filter id="fc3" x="0" y="0" width="100%" height="100%" color-interpolation-filters="sRGB"><feTurbulence type="fractalNoise" baseFrequency="0.55" numOctaves="1" seed="44"/><feColorMatrix type="matrix" values="0 0 0 0 0.690 0 0 0 0 0.690 0 0 0 0 0.925 25.0 0 0 0 -18.22"/></filter><filter id="fc4" x="0" y="0" width="100%" height="100%" color-interpolation-filters="sRGB"><feTurbulence type="fractalNoise" baseFrequency="0.55" numOctaves="1" seed="45"/><feColorMatrix type="matrix" values="0 0 0 0 0.627 0 0 0 0 0.627 0 0 0 0 0.910 25.0 0 0 0 -16.68"/></filter><clipPath id="cc5"><polygon points="1.0,98.0 30.0,103.0 52.0,118.0 56.0,143.0 52.0,155.0 1.0,155.0"/></clipPath><filter id="fc6" x="0" y="0" width="100%" height="100%" color-interpolation-filters="sRGB"><feTurbulence type="fractalNoise" baseFrequency="0.5" numOctaves="1" seed="46"/><feColorMatrix type="matrix" values="0 0 0 0 0.314 0 0 0 0 0.314 0 0 0 0 0.847 25.0 0 0 0 -15.76"/></filter><clipPath id="cc7"><polygon points="165.0,86.0 175.0,83.0 185.0,84.0 195.0,87.0 205.0,89.0 215.0,91.0 221.0,94.0 221.0,105.0 210.0,99.0 190.0,93.0 175.0,93.0 168.0,97.0"/></clipPath><filter id="fc8" x="0" y="0" width="100%" height="100%" color-interpolation-filters="sRGB"><feTurbulence type="fractalNoise" baseFrequency="0.55" numOctaves="1" seed="47"/><feColorMatrix type="matrix" values="0 0 0 0 0.941 0 0 0 0 0.941 0 0 0 0 0.376 25.0 0 0 0 -16.16"/></filter><clipPath id="cc9"><polygon points="130.0,1.0 220.0,1.0 220.0,103.0 205.0,97.0 185.0,90.0 170.0,93.0 162.0,73.0 155.0,38.0 130.0,33.0"/></clipPath><filter id="fc10" x="0" y="0" width="100%" height="100%" color-interpolation-filters="sRGB"><feTurbulence type="fractalNoise" baseFrequency="0.55" numOctaves="1" seed="48"/><feColorMatrix type="matrix" values="0 0 0 0 0.502 0 0 0 0 0.502 0 0 0 0 0.878 25.0 0 0 0 -17.03"/></filter><filter id="fc11" x="0" y="0" width="100%" height="100%" color-interpolation-filters="sRGB"><feTurbulence type="fractalNoise" baseFrequency="0.55" numOctaves="1" seed="49"/><feColorMatrix type="matrix" values="0 0 0 0 0.941 0 0 0 0 0.941 0 0 0 0 0.314 25.0 0 0 0 -16.68"/></filter><clipPath id="cc12"><polygon points="1.0,33.0 20.0,33.0 20.0,93.0 1.0,93.0"/></clipPath><filter id="fc13" x="0" y="0" width="100%" height="100%" color-interpolation-filters="sRGB"><feTurbulence type="fractalNoise" baseFrequency="0.6" numOctaves="1" seed="50"/><feColorMatrix type="matrix" values="0 0 0 0 0.290 0 0 0 0 0.314 0 0 0 0 0.878 25.0 0 0 0 -13.40"/></filter><clipPath id="cc14"><polygon points="124.0,43.0 132.0,45.0 138.0,50.0 136.0,59.0 136.0,68.0 140.0,73.0 148.0,75.0 151.0,80.0 145.0,81.0 130.0,81.0 130.0,79.0 131.0,69.0 129.0,59.0 125.0,51.0"/></clipPath><filter id="fc15" x="0" y="0" width="100%" height="100%" color-interpolation-filters="sRGB"><feTurbulence type="fractalNoise" baseFrequency="0.6" numOctaves="1" seed="51"/><feColorMatrix type="matrix" values="0 0 0 0 0.314 0 0 0 0 0.659 0 0 0 0 0.784 25.0 0 0 0 -16.16"/></filter><filter id="fc16" x="0" y="0" width="100%" height="100%" color-interpolation-filters="sRGB"><feTurbulence type="fractalNoise" baseFrequency="0.5" numOctaves="1" seed="52"/><feColorMatrix type="matrix" values="0 0 0 0 0.290 0 0 0 0 0.314 0 0 0 0 0.878 25.0 0 0 0 -13.03"/></filter><clipPath id="cc17"><polygon points="128.0,81.0 145.0,81.0 143.0,86.0 142.5,93.0 141.0,103.0 140.0,111.0 142.8,114.1 136.0,114.5 130.0,112.0 124.0,109.0 120.0,103.0 121.0,93.0 124.0,85.0"/></clipPath><filter id="fc18" x="0" y="0" width="100%" height="100%" color-interpolation-filters="sRGB"><feTurbulence type="fractalNoise" baseFrequency="0.6" numOctaves="1" seed="53"/><feColorMatrix type="matrix" values="0 0 0 0 0.314 0 0 0 0 0.659 0 0 0 0 0.784 25.0 0 0 0 -16.16"/></filter><mask id="mc19"><polygon points="55.0,155.0 56.5,153.0 58.0,150.0 60.0,145.0 62.0,142.0 67.0,140.5 71.0,138.5 76.0,133.5 78.5,127.0 79.3,116.0 78.5,110.0 80.0,102.0 81.8,94.0 83.4,88.0 85.0,86.0 89.0,84.5 93.0,86.0 97.0,91.0 99.0,96.0 104.0,99.0 110.0,100.8 114.0,103.0 114.0,106.0 109.0,105.0 105.0,104.0 99.0,101.0 95.0,94.5 91.5,90.0 88.3,91.0 85.8,97.5 85.8,110.6 86.6,123.6 89.1,133.4 86.6,138.3 85.0,142.3 86.6,146.4 90.7,144.8 94.8,142.3 97.2,144.8 99.0,149.7 102.0,152.0 106.0,149.7 109.4,143.0 111.9,136.6 112.7,130.0 114.3,126.0 116.8,125.2 120.0,127.0 123.5,132.0 130.7,132.0 135.4,131.9 140.7,129.8 143.8,124.6 144.8,119.3 142.8,114.1 140.0,111.0 141.0,103.0 142.5,93.0 143.0,86.0 145.0,81.0 148.0,79.0 151.0,80.0 150.2,88.0 149.5,97.0 149.5,102.0 152.0,104.5 160.5,104.6 165.3,104.8 169.1,98.0 175.0,94.1 182.7,92.1 190.5,94.1 198.3,97.0 204.1,98.0 209.0,100.5 213.6,103.0 217.3,105.0 220.0,106.0 220.0,129.4 211.9,128.1 204.1,127.1 198.3,129.0 194.4,132.9 188.6,135.8 178.9,137.8 171.1,138.8 167.2,140.7 165.5,146.5 165.5,155.0" fill="none" stroke="#fff" stroke-width="5"/></mask><filter id="fc20" x="0" y="0" width="100%" height="100%" color-interpolation-filters="sRGB"><feTurbulence type="fractalNoise" baseFrequency="0.6" numOctaves="1" seed="54"/><feColorMatrix type="matrix" values="0 0 0 0 0.290 0 0 0 0 0.282 0 0 0 0 0.878 25.0 0 0 0 -12.68"/></filter><filter id="fc21" x="0" y="0" width="100%" height="100%" color-interpolation-filters="sRGB"><feTurbulence type="fractalNoise" baseFrequency="0.6" numOctaves="1" seed="55"/><feColorMatrix type="matrix" values="0 0 0 0 0.910 0 0 0 0 0.878 0 0 0 0 0.188 25.0 0 0 0 -16.16"/></filter><clipPath id="cc22"><polygon points="115.0,73.0 221.0,73.0 221.0,133.0 175.0,141.0 166.0,143.0 140.0,135.0 115.0,128.0"/></clipPath><filter id="fc23" x="0" y="0" width="100%" height="100%" color-interpolation-filters="sRGB"><feTurbulence type="fractalNoise" baseFrequency="0.25" numOctaves="1" seed="56"/><feColorMatrix type="matrix" values="0 0 0 0 0.235 0 0 0 0 0.337 0 0 0 0 0.918 25.0 0 0 0 -13.80"/></filter><clipPath id="cc24"><polygon points="55.0,155.0 56.5,153.0 58.0,150.0 60.0,145.0 62.0,142.0 67.0,140.5 71.0,138.5 76.0,133.5 78.5,127.0 79.3,116.0 78.5,110.0 80.0,102.0 81.8,94.0 83.4,88.0 85.0,86.0 89.0,84.5 93.0,86.0 97.0,91.0 99.0,96.0 104.0,99.0 110.0,100.8 114.0,103.0 114.0,106.0 109.0,105.0 105.0,104.0 99.0,101.0 95.0,94.5 91.5,90.0 88.3,91.0 85.8,97.5 85.8,110.6 86.6,123.6 89.1,133.4 86.6,138.3 85.0,142.3 86.6,146.4 90.7,144.8 94.8,142.3 97.2,144.8 99.0,149.7 102.0,152.0 106.0,149.7 109.4,143.0 111.9,136.6 112.7,130.0 114.3,126.0 116.8,125.2 120.0,127.0 123.5,132.0 130.7,132.0 135.4,131.9 140.7,129.8 143.8,124.6 144.8,119.3 142.8,114.1 140.0,111.0 141.0,103.0 142.5,93.0 143.0,86.0 145.0,81.0 148.0,79.0 151.0,80.0 150.2,88.0 149.5,97.0 149.5,102.0 152.0,104.5 160.5,104.6 165.3,104.8 169.1,98.0 175.0,94.1 182.7,92.1 190.5,94.1 198.3,97.0 204.1,98.0 209.0,100.5 213.6,103.0 217.3,105.0 220.0,106.0 220.0,129.4 211.9,128.1 204.1,127.1 198.3,129.0 194.4,132.9 188.6,135.8 178.9,137.8 171.1,138.8 167.2,140.7 165.5,146.5 165.5,155.0"/></clipPath><filter id="fc25" x="0" y="0" width="100%" height="100%" color-interpolation-filters="sRGB"><feTurbulence type="fractalNoise" baseFrequency="0.3" numOctaves="1" seed="57"/><feColorMatrix type="matrix" values="0 0 0 0 0.329 0 0 0 0 0.267 0 0 0 0 0.902 25.0 0 0 0 -14.25"/></filter><filter id="fc26" x="0" y="0" width="100%" height="100%" color-interpolation-filters="sRGB"><feTurbulence type="fractalNoise" baseFrequency="0.3" numOctaves="1" seed="58"/><feColorMatrix type="matrix" values="0 0 0 0 0.227 0 0 0 0 0.376 0 0 0 0 0.925 25.0 0 0 0 -13.40"/></filter><clipPath id="cc27"><polygon points="150.0,88.0 221.0,88.0 221.0,133.0 195.0,135.0 165.0,143.0 150.0,133.0"/></clipPath><filter id="fc28" x="0" y="0" width="100%" height="100%" color-interpolation-filters="sRGB"><feTurbulence type="fractalNoise" baseFrequency="0.5" numOctaves="1" seed="59"/><feColorMatrix type="matrix" values="0 0 0 0 0.251 0 0 0 0 0.659 0 0 0 0 0.784 25.0 0 0 0 -15.43"/></filter><clipPath id="cc29"><polygon points="153.8,39.0 158.2,44.9 159.6,58.0 158.2,63.9 153.8,71.2 152.3,78.5 150.9,84.3 148.7,93.0 139.2,93.0 139.2,84.3 139.2,74.1 145.0,66.8 140.7,59.5 136.3,55.1 134.8,50.7 142.1,49.3 149.4,43.4"/></clipPath><filter id="fc30" x="0" y="0" width="100%" height="100%" color-interpolation-filters="sRGB"><feTurbulence type="fractalNoise" baseFrequency="0.4" numOctaves="1" seed="60"/><feColorMatrix type="matrix" values="0 0 0 0 0.376 0 0 0 0 0.439 0 0 0 0 0.910 25.0 0 0 0 -14.25"/></filter><filter id="fc31" x="0" y="0" width="100%" height="100%" color-interpolation-filters="sRGB"><feTurbulence type="fractalNoise" baseFrequency="0.5" numOctaves="1" seed="61"/><feColorMatrix type="matrix" values="0 0 0 0 1.000 0 0 0 0 1.000 0 0 0 0 1.000 25.0 0 0 0 -17.03"/></filter></defs>
<rect x="1.0" y="1.0" width="219.0" height="154.0" clip-path="url(#cc2)" filter="url(#fc1)" opacity="0.60"/>
<rect x="1.0" y="1.0" width="219.0" height="154.0" clip-path="url(#cc2)" filter="url(#fc3)" opacity="0.60"/>
<rect x="1.0" y="98.0" width="55.0" height="57.0" clip-path="url(#cc5)" filter="url(#fc4)" opacity="0.70"/>
<rect x="165.0" y="83.0" width="55.0" height="22.0" clip-path="url(#cc7)" filter="url(#fc6)" opacity="0.80"/>
<rect x="130.0" y="1.0" width="90.0" height="102.0" clip-path="url(#cc9)" filter="url(#fc8)" opacity="0.70"/>
<rect x="130.0" y="1.0" width="90.0" height="102.0" clip-path="url(#cc9)" filter="url(#fc10)" opacity="0.60"/>
<rect x="1.0" y="33.0" width="19.0" height="60.0" clip-path="url(#cc12)" filter="url(#fc11)" opacity="0.80"/>
<rect x="124.0" y="43.0" width="27.0" height="38.0" clip-path="url(#cc14)" filter="url(#fc13)" opacity="0.85"/>
<rect x="124.0" y="43.0" width="27.0" height="38.0" clip-path="url(#cc14)" filter="url(#fc15)" opacity="0.80"/>
<rect x="120.0" y="81.0" width="25.0" height="33.5" clip-path="url(#cc17)" filter="url(#fc16)" opacity="0.90"/>
<rect x="120.0" y="81.0" width="25.0" height="33.5" clip-path="url(#cc17)" filter="url(#fc18)" opacity="0.80"/>
<g clip-path="url(#cc22)"><g mask="url(#mc19)"><rect x="1.0" y="1.0" width="219.0" height="154.0" clip-path="url(#cc2)" filter="url(#fc20)" opacity="0.90"/><rect x="1.0" y="1.0" width="219.0" height="154.0" clip-path="url(#cc2)" filter="url(#fc21)" opacity="0.90"/></g></g>
<polygon points="55.0,155.0 56.5,153.0 58.0,150.0 60.0,145.0 62.0,142.0 67.0,140.5 71.0,138.5 76.0,133.5 78.5,127.0 79.3,116.0 78.5,110.0 80.0,102.0 81.8,94.0 83.4,88.0 85.0,86.0 89.0,84.5 93.0,86.0 97.0,91.0 99.0,96.0 104.0,99.0 110.0,100.8 114.0,103.0 114.0,106.0 109.0,105.0 105.0,104.0 99.0,101.0 95.0,94.5 91.5,90.0 88.3,91.0 85.8,97.5 85.8,110.6 86.6,123.6 89.1,133.4 86.6,138.3 85.0,142.3 86.6,146.4 90.7,144.8 94.8,142.3 97.2,144.8 99.0,149.7 102.0,152.0 106.0,149.7 109.4,143.0 111.9,136.6 112.7,130.0 114.3,126.0 116.8,125.2 120.0,127.0 123.5,132.0 130.7,132.0 135.4,131.9 140.7,129.8 143.8,124.6 144.8,119.3 142.8,114.1 140.0,111.0 141.0,103.0 142.5,93.0 143.0,86.0 145.0,81.0 148.0,79.0 151.0,80.0 150.2,88.0 149.5,97.0 149.5,102.0 152.0,104.5 160.5,104.6 165.3,104.8 169.1,98.0 175.0,94.1 182.7,92.1 190.5,94.1 198.3,97.0 204.1,98.0 209.0,100.5 213.6,103.0 217.3,105.0 220.0,106.0 220.0,129.4 211.9,128.1 204.1,127.1 198.3,129.0 194.4,132.9 188.6,135.8 178.9,137.8 171.1,138.8 167.2,140.7 165.5,146.5 165.5,155.0" fill="#4640dc"/>
<g clip-path="url(#cc24)"><rect x="55.0" y="79.0" width="165.0" height="76.0" clip-path="url(#cc24)" filter="url(#fc23)"/><rect x="55.0" y="79.0" width="165.0" height="76.0" clip-path="url(#cc24)" filter="url(#fc25)"/><rect x="150.0" y="88.0" width="70.0" height="55.0" clip-path="url(#cc27)" filter="url(#fc26)"/></g>
<polygon points="153.8,39.0 158.2,44.9 159.6,58.0 158.2,63.9 153.8,71.2 152.3,78.5 150.9,84.3 148.7,93.0 139.2,93.0 139.2,84.3 139.2,74.1 145.0,66.8 140.7,59.5 136.3,55.1 134.8,50.7 142.1,49.3 149.4,43.4" fill="#4444d8"/>
<rect x="134.8" y="39.0" width="24.8" height="54.0" clip-path="url(#cc29)" filter="url(#fc28)"/>
<rect x="134.8" y="39.0" width="24.8" height="54.0" clip-path="url(#cc29)" filter="url(#fc30)"/>
<rect x="134.8" y="39.0" width="24.8" height="54.0" clip-path="url(#cc29)" filter="url(#fc31)" opacity="0.60"/>
<polyline points="138.0,53.0 141.0,49.5 146.0,47.0 149.5,44.0 152.5,41.0 155.5,40.5 157.0,43.0 157.5,48.0 158.0,53.5 159.0,58.5 158.3,62.5 155.5,66.0 153.5,70.0 152.0,75.0 150.5,81.0 149.5,87.0" fill="none" stroke="#3c3cd4" stroke-width="4" stroke-linejoin="round" stroke-linecap="round"/>
<polygon points="104.5,6.4 106.8,6.8 110.0,11.8 111.8,17.3 109.5,20.9 109.0,27.3 108.2,33.0 107.3,36.0 105.6,38.5 103.5,40.0 102.0,37.5 101.8,33.0 102.7,29.1 102.7,23.6 100.9,18.2 101.8,13.6" fill="#4448dc"/>
<polygon points="208.8,24.0 212.0,22.9 219.5,23.0 219.5,30.5 214.0,30.0 210.0,27.0" fill="#4448dc"/>
<polygon points="216.0,32.0 219.5,32.0 219.5,39.6 215.0,38.0" fill="#4448dc"/>
<polygon points="10.2,39.0 13.9,38.8 13.5,41.8 10.5,41.8" fill="#4448dc"/>
<polygon points="87.0,5.8 88.8,5.6 88.8,7.4 87.0,7.4" fill="#4448dc"/>
<polygon points="52.4,101.6 56.5,100.0 61.4,102.4 66.3,105.7 72.8,107.3 79.3,108.1 79.3,110.8 72.8,110.8 67.9,110.0 63.0,109.0 59.8,106.8 54.9,104.3" fill="#4448dc"/>
<polygon points="8.0,57.5 9.8,59.5 9.6,64.0 10.8,68.0 12.3,73.0 12.2,77.0 10.0,75.0 7.5,71.0 5.6,66.5 6.2,61.5" fill="#e8e030"/>
<polygon points="7.0,83.0 11.0,82.5 12.7,84.0 11.5,85.8 8.0,85.8" fill="#e8e030" opacity="0.85"/>
<polyline points="103.0,39.5 105.0,42.0 107.5,45.5 111.3,51.2" fill="none" stroke="#4a60d0" stroke-width="1" opacity="0.6"/>
<polygon points="171.5,62.0 174.0,63.0 175.5,66.5 174.0,68.0 172.0,66.0" fill="#40a0c8"/>
<polyline points="167.5,33.0 168.5,39.0 174.0,40.0 180.0,39.0 183.0,38.5" fill="none" stroke="#e8e040" stroke-width="1" stroke-dasharray="2 1" opacity="0.8"/>
<polygon points="104.8,9.5 106.5,9.5 107.5,13.5 106.0,14.5 105.0,13.0" fill="#fff"/>
<polyline points="111.5,1.0 113.6,3.6 114.5,10.0" fill="none" stroke="#4a60d0" stroke-width="1.8" stroke-linecap="round"/>
<polyline points="113.5,3.5 117.0,1.8 120.5,1.0" fill="none" stroke="#4a60d0" stroke-width="1.8" stroke-linecap="round"/>
<polyline points="119.5,5.0 120.3,9.0 119.5,13.0 117.3,17.3" fill="none" stroke="#4a60d0" stroke-width="1.8" stroke-linecap="round"/>
<polyline points="135.5,5.5 138.2,11.8" fill="none" stroke="#4a60d0" stroke-width="1.8" stroke-linecap="round"/>
<ellipse cx="165.3" cy="118.4" rx="3.5" ry="2.0" fill="#fff"/><ellipse cx="158.9" cy="126.1" rx="4.7" ry="3.4" fill="#fff"/><ellipse cx="156.7" cy="111.8" rx="1.8" ry="1.3" fill="#fff"/><ellipse cx="193.4" cy="125.2" rx="2.5" ry="1.0" fill="#fff"/><ellipse cx="152.5" cy="153.5" rx="4.3" ry="3.5" fill="#fff"/><polygon points="120.5,151.0 124.9,146.6 129.3,146.6 131.5,151.0 131.0,155.0 119.5,155.0" fill="#fff"/>
<rect x="0.5" y="0.5" width="220" height="155" fill="none" stroke="#cdcdcd" stroke-width="1"/>
</svg>
<div class="cb" style="left:10px;top:415px;background:linear-gradient(to right,#3e26a8 0.78%,#402ab4 2.34%,#422ec0 3.91%,#4332cb 5.47%,#4537d5 7.03%,#463cde 8.59%,#4741e5 10.16%,#4747eb 11.72%,#484df0 13.28%,#4852f4 14.84%,#4758f8 16.41%,#465efb 17.97%,#4563fd 19.53%,#4269fe 21.09%,#3e6fff 22.66%,#3875fe 24.22%,#327cfc 25.78%,#2f81fa 27.34%,#2e87f7 28.91%,#2d8cf3 30.47%,#2b91ef 32.03%,#2797eb 33.59%,#259be8 35.16%,#23a0e5 36.72%,#20a5e3 38.28%,#1ca9df 39.84%,#18addb 41.41%,#12b1d6 42.97%,#08b5d0 44.53%,#01b8ca 46.09%,#02bac3 47.66%,#0bbdbd 49.22%,#19bfb6 50.78%,#24c1ae 52.34%,#2cc4a7 53.91%,#31c69f 55.47%,#37c897 57.03%,#3fca8e 58.59%,#4acb84 60.16%,#57cc7a 61.72%,#64cd6f 63.28%,#72cd64 64.84%,#81cc59 66.41%,#8fcb4e 67.97%,#9dc943 69.53%,#abc739 71.09%,#b9c431 72.66%,#c5c22a 74.22%,#d1bf27 75.78%,#dcbd29 77.34%,#e6bb2d 78.91%,#f0ba36 80.47%,#f8ba3d 82.03%,#febe3c 83.59%,#fec338 85.16%,#fec934 86.72%,#fccf30 88.28%,#fad62d 89.84%,#f7dc2a 91.41%,#f5e327 92.97%,#f5e924 94.53%,#f6ef20 96.09%,#f7f51b 97.66%,#f9fb15 99.22%)"></div>
<div class="tm" style="left:54.0px;top:421px;height:2px;opacity:.5"></div>
<div class="tm" style="left:54.0px;top:415px;height:1px;opacity:.25"></div>
<div class="tm" style="left:98.0px;top:421px;height:2px;opacity:.5"></div>
<div class="tm" style="left:98.0px;top:415px;height:1px;opacity:.25"></div>
<div class="tm" style="left:142.0px;top:421px;height:2px;opacity:.5"></div>
<div class="tm" style="left:142.0px;top:415px;height:1px;opacity:.25"></div>
<div class="tm" style="left:186.0px;top:421px;height:2px;opacity:.5"></div>
<div class="tm" style="left:186.0px;top:415px;height:1px;opacity:.25"></div>
<div class="tk" style="left:0.5px;top:427.3px">0</div>
<div class="tk" style="left:44.5px;top:427.3px">1</div>
<div class="tk" style="left:88.5px;top:427.3px">2</div>
<div class="tk" style="left:132.5px;top:427.3px">3</div>
<div class="tk" style="left:176.5px;top:427.3px">4</div>
<div class="tk" style="left:220.5px;top:427.3px">5</div>
<div class="lab" style="left:70.5px;top:441.8px">Chl-a (mg m<sup>-3</sup>)</div>
<div class="cap" style="left:85.5px;top:452.0px">(<b>c</b>)</div>
<svg class="map" style="left:320px;top:255.5px" width="221" height="156" viewBox="0 0 221 156">
<defs><filter id="fd1" x="0" y="0" width="100%" height="100%" color-interpolation-filters="sRGB"><feTurbulence type="fractalNoise" baseFrequency="0.55" numOctaves="1" seed="62"/><feColorMatrix type="matrix" values="0 0 0 0 0.596 0 0 0 0 0.596 0 0 0 0 0.878 25.0 0 0 0 -17.80"/></filter><clipPath id="cd2"><polygon points="1.0,1.0 220.0,1.0 220.0,155.0 1.0,155.0"/></clipPath><filter id="fd3" x="0" y="0" width="100%" height="100%" color-interpolation-filters="sRGB"><feTurbulence type="fractalNoise" baseFrequency="0.55" numOctaves="1" seed="63"/><feColorMatrix type="matrix" values="0 0 0 0 0.941 0 0 0 0 0.941 0 0 0 0 0.565 25.0 0 0 0 -18.72"/></filter><filter id="fd4" x="0" y="0" width="100%" height="100%" color-interpolation-filters="sRGB"><feTurbulence type="fractalNoise" baseFrequency="0.55" numOctaves="1" seed="64"/><feColorMatrix type="matrix" values="0 0 0 0 0.439 0 0 0 0 0.439 0 0 0 0 0.816 25.0 0 0 0 -15.95"/></filter><clipPath id="cd5"><polygon points="1.0,98.0 30.0,103.0 52.0,118.0 56.0,143.0 52.0,155.0 1.0,155.0"/></clipPath><filter id="fd6" x="0" y="0" width="100%" height="100%" color-interpolation-filters="sRGB"><feTurbulence type="fractalNoise" baseFrequency="0.55" numOctaves="1" seed="65"/><feColorMatrix type="matrix" values="0 0 0 0 0.533 0 0 0 0 0.533 0 0 0 0 0.878 25.0 0 0 0 -16.85"/></filter><clipPath id="cd7"><polygon points="130.0,1.0 220.0,1.0 220.0,103.0 205.0,97.0 185.0,90.0 170.0,93.0 162.0,73.0 155.0,38.0 130.0,33.0"/></clipPath><filter id="fd8" x="0" y="0" width="100%" height="100%" color-interpolation-filters="sRGB"><feTurbulence type="fractalNoise" baseFrequency="0.55" numOctaves="1" seed="66"/><feColorMatrix type="matrix" values="0 0 0 0 0.910 0 0 0 0 0.878 0 0 0 0 0.376 25.0 0 0 0 -17.49"/></filter><filter id="fd9" x="0" y="0" width="100%" height="100%" color-interpolation-filters="sRGB"><feTurbulence type="fractalNoise" baseFrequency="0.5" numOctaves="1" seed="67"/><feColorMatrix type="matrix" values="0 0 0 0 0.376 0 0 0 0 0.376 0 0 0 0 0.847 25.0 0 0 0 -15.43"/></filter><clipPath id="cd10"><polygon points="165.0,86.0 175.0,83.0 185.0,84.0 195.0,87.0 205.0,89.0 215.0,91.0 221.0,94.0 221.0,105.0 210.0,99.0 190.0,93.0 175.0,93.0 168.0,97.0"/></clipPath><filter id="fd11" x="0" y="0" width="100%" height="100%" color-interpolation-filters="sRGB"><feTurbulence type="fractalNoise" baseFrequency="0.6" numOctaves="1" seed="68"/><feColorMatrix type="matrix" values="0 0 0 0 0.353 0 0 0 0 0.345 0 0 0 0 0.816 25.0 0 0 0 -13.40"/></filter><clipPath id="cd12"><polygon points="124.0,43.0 132.0,45.0 138.0,50.0 136.0,59.0 136.0,68.0 140.0,73.0 148.0,75.0 151.0,80.0 145.0,81.0 130.0,81.0 130.0,79.0 131.0,69.0 129.0,59.0 125.0,51.0"/></clipPath><filter id="fd13" x="0" y="0" width="100%" height="100%" color-interpolation-filters="sRGB"><feTurbulence type="fractalNoise" baseFrequency="0.6" numOctaves="1" seed="69"/><feColorMatrix type="matrix" values="0 0 0 0 0.251 0 0 0 0 0.690 0 0 0 0 0.784 25.0 0 0 0 -16.16"/></filter><filter id="fd14" x="0" y="0" width="100%" height="100%" color-interpolation-filters="sRGB"><feTurbulence type="fractalNoise" baseFrequency="0.5" numOctaves="1" seed="70"/><feColorMatrix type="matrix" values="0 0 0 0 0.290 0 0 0 0 0.376 0 0 0 0 0.878 25.0 0 0 0 -13.25"/></filter><clipPath id="cd15"><polygon points="128.0,81.0 145.0,81.0 143.0,86.0 142.5,93.0 141.0,103.0 140.0,111.0 142.8,114.1 136.0,114.5 130.0,112.0 124.0,109.0 120.0,103.0 121.0,93.0 124.0,85.0"/></clipPath><filter id="fd16" x="0" y="0" width="100%" height="100%" color-interpolation-filters="sRGB"><feTurbulence type="fractalNoise" baseFrequency="0.6" numOctaves="1" seed="71"/><feColorMatrix type="matrix" values="0 0 0 0 0.251 0 0 0 0 0.690 0 0 0 0 0.784 25.0 0 0 0 -15.43"/></filter><mask id="md17"><polygon points="55.0,155.0 56.5,153.0 58.0,150.0 60.0,145.0 62.0,142.0 67.0,140.5 71.0,138.5 76.0,133.5 78.5,127.0 79.3,116.0 78.5,110.0 80.0,102.0 81.8,94.0 83.4,88.0 85.0,86.0 89.0,84.5 93.0,86.0 97.0,91.0 99.0,96.0 104.0,99.0 110.0,100.8 114.0,103.0 114.0,106.0 109.0,105.0 105.0,104.0 99.0,101.0 95.0,94.5 91.5,90.0 88.3,91.0 85.8,97.5 85.8,110.6 86.6,123.6 89.1,133.4 86.6,138.3 85.0,142.3 86.6,146.4 90.7,144.8 94.8,142.3 97.2,144.8 99.0,149.7 102.0,152.0 106.0,149.7 109.4,143.0 111.9,136.6 112.7,130.0 114.3,126.0 116.8,125.2 120.0,127.0 123.5,132.0 130.7,132.0 135.4,131.9 140.7,129.8 143.8,124.6 144.8,119.3 142.8,114.1 140.0,111.0 141.0,103.0 142.5,93.0 143.0,86.0 145.0,81.0 148.0,79.0 151.0,80.0 150.2,88.0 149.5,97.0 149.5,102.0 152.0,104.5 160.5,104.6 165.3,104.8 169.1,98.0 175.0,94.1 182.7,92.1 190.5,94.1 198.3,97.0 204.1,98.0 209.0,100.5 213.6,103.0 217.3,105.0 220.0,106.0 220.0,129.4 211.9,128.1 204.1,127.1 198.3,129.0 194.4,132.9 188.6,135.8 178.9,137.8 171.1,138.8 167.2,140.7 165.5,146.5 165.5,155.0" fill="none" stroke="#fff" stroke-width="5"/></mask><filter id="fd18" x="0" y="0" width="100%" height="100%" color-interpolation-filters="sRGB"><feTurbulence type="fractalNoise" baseFrequency="0.6" numOctaves="1" seed="72"/><feColorMatrix type="matrix" values="0 0 0 0 0.290 0 0 0 0 0.345 0 0 0 0 0.878 25.0 0 0 0 -13.03"/></filter><filter id="fd19" x="0" y="0" width="100%" height="100%" color-interpolation-filters="sRGB"><feTurbulence type="fractalNoise" baseFrequency="0.6" numOctaves="1" seed="73"/><feColorMatrix type="matrix" values="0 0 0 0 0.188 0 0 0 0 0.690 0 0 0 0 0.753 25.0 0 0 0 -15.43"/></filter><filter id="fd20" x="0" y="0" width="100%" height="100%" color-interpolation-filters="sRGB"><feTurbulence type="fractalNoise" baseFrequency="0.6" numOctaves="1" seed="74"/><feColorMatrix type="matrix" values="0 0 0 0 0.910 0 0 0 0 0.878 0 0 0 0 0.188 25.0 0 0 0 -16.40"/></filter><clipPath id="cd21"><polygon points="115.0,73.0 221.0,73.0 221.0,133.0 175.0,141.0 166.0,143.0 140.0,135.0 115.0,128.0"/></clipPath><filter id="fd22" x="0" y="0" width="100%" height="100%" color-interpolation-filters="sRGB"><feTurbulence type="fractalNoise" baseFrequency="0.25" numOctaves="1" seed="75"/><feColorMatrix type="matrix" values="0 0 0 0 0.290 0 0 0 0 0.282 0 0 0 0 0.878 25.0 0 0 0 -13.40"/></filter><clipPath id="cd23"><polygon points="55.0,155.0 56.5,153.0 58.0,150.0 60.0,145.0 62.0,142.0 67.0,140.5 71.0,138.5 76.0,133.5 78.5,127.0 79.3,116.0 78.5,110.0 80.0,102.0 81.8,94.0 83.4,88.0 85.0,86.0 89.0,84.5 93.0,86.0 97.0,91.0 99.0,96.0 104.0,99.0 110.0,100.8 114.0,103.0 114.0,106.0 109.0,105.0 105.0,104.0 99.0,101.0 95.0,94.5 91.5,90.0 88.3,91.0 85.8,97.5 85.8,110.6 86.6,123.6 89.1,133.4 86.6,138.3 85.0,142.3 86.6,146.4 90.7,144.8 94.8,142.3 97.2,144.8 99.0,149.7 102.0,152.0 106.0,149.7 109.4,143.0 111.9,136.6 112.7,130.0 114.3,126.0 116.8,125.2 120.0,127.0 123.5,132.0 130.7,132.0 135.4,131.9 140.7,129.8 143.8,124.6 144.8,119.3 142.8,114.1 140.0,111.0 141.0,103.0 142.5,93.0 143.0,86.0 145.0,81.0 148.0,79.0 151.0,80.0 150.2,88.0 149.5,97.0 149.5,102.0 152.0,104.5 160.5,104.6 165.3,104.8 169.1,98.0 175.0,94.1 182.7,92.1 190.5,94.1 198.3,97.0 204.1,98.0 209.0,100.5 213.6,103.0 217.3,105.0 220.0,106.0 220.0,129.4 211.9,128.1 204.1,127.1 198.3,129.0 194.4,132.9 188.6,135.8 178.9,137.8 171.1,138.8 167.2,140.7 165.5,146.5 165.5,155.0"/></clipPath><filter id="fd24" x="0" y="0" width="100%" height="100%" color-interpolation-filters="sRGB"><feTurbulence type="fractalNoise" baseFrequency="0.25" numOctaves="1" seed="76"/><feColorMatrix type="matrix" values="0 0 0 0 0.227 0 0 0 0 0.486 0 0 0 0 0.941 25.0 0 0 0 -12.34"/></filter><clipPath id="cd25"><polygon points="150.0,88.0 221.0,88.0 221.0,133.0 195.0,135.0 165.0,143.0 150.0,133.0"/></clipPath><filter id="fd26" x="0" y="0" width="100%" height="100%" color-interpolation-filters="sRGB"><feTurbulence type="fractalNoise" baseFrequency="0.3" numOctaves="1" seed="77"/><feColorMatrix type="matrix" values="0 0 0 0 0.188 0 0 0 0 0.659 0 0 0 0 0.878 25.0 0 0 0 -14.25"/></filter><filter id="fd27" x="0" y="0" width="100%" height="100%" color-interpolation-filters="sRGB"><feTurbulence type="fractalNoise" baseFrequency="0.4" numOctaves="1" seed="78"/><feColorMatrix type="matrix" values="0 0 0 0 0.251 0 0 0 0 0.753 0 0 0 0 0.690 25.0 0 0 0 -15.76"/></filter><filter id="fd28" x="0" y="0" width="100%" height="100%" color-interpolation-filters="sRGB"><feTurbulence type="fractalNoise" baseFrequency="0.4" numOctaves="1" seed="79"/><feColorMatrix type="matrix" values="0 0 0 0 0.188 0 0 0 0 0.627 0 0 0 0 0.910 25.0 0 0 0 -16.16"/></filter><filter id="fd29" x="0" y="0" width="100%" height="100%" color-interpolation-filters="sRGB"><feTurbulence type="fractalNoise" baseFrequency="0.45" numOctaves="1" seed="80"/><feColorMatrix type="matrix" values="0 0 0 0 0.910 0 0 0 0 0.816 0 0 0 0 0.125 25.0 0 0 0 -13.80"/></filter><clipPath id="cd30"><polygon points="153.8,39.0 158.2,44.9 159.6,58.0 158.2,63.9 153.8,71.2 152.3,78.5 150.9,84.3 148.7,93.0 139.2,93.0 139.2,84.3 139.2,74.1 145.0,66.8 140.7,59.5 136.3,55.1 134.8,50.7 142.1,49.3 149.4,43.4"/></clipPath><filter id="fd31" x="0" y="0" width="100%" height="100%" color-interpolation-filters="sRGB"><feTurbulence type="fractalNoise" baseFrequency="0.45" numOctaves="1" seed="81"/><feColorMatrix type="matrix" values="0 0 0 0 0.188 0 0 0 0 0.627 0 0 0 0 0.847 25.0 0 0 0 -14.25"/></filter><filter id="fd32" x="0" y="0" width="100%" height="100%" color-interpolation-filters="sRGB"><feTurbulence type="fractalNoise" baseFrequency="0.5" numOctaves="1" seed="82"/><feColorMatrix type="matrix" values="0 0 0 0 0.282 0 0 0 0 0.282 0 0 0 0 0.847 25.0 0 0 0 -14.77"/></filter><clipPath id="cd33"><polygon points="104.5,6.4 106.8,6.8 110.0,11.8 111.8,17.3 109.5,20.9 109.0,27.3 108.2,33.0 107.3,36.0 105.6,38.5 103.5,40.0 102.0,37.5 101.8,33.0 102.7,29.1 102.7,23.6 100.9,18.2 101.8,13.6"/></clipPath></defs>
<rect x="1.0" y="1.0" width="219.0" height="154.0" clip-path="url(#cd2)" filter="url(#fd1)" opacity="0.60"/>
<rect x="1.0" y="1.0" width="219.0" height="154.0" clip-path="url(#cd2)" filter="url(#fd3)" opacity="0.60"/>
<rect x="1.0" y="98.0" width="55.0" height="57.0" clip-path="url(#cd5)" filter="url(#fd4)" opacity="0.80"/>
<rect x="130.0" y="1.0" width="90.0" height="102.0" clip-path="url(#cd7)" filter="url(#fd6)" opacity="0.70"/>
<rect x="130.0" y="1.0" width="90.0" height="102.0" clip-path="url(#cd7)" filter="url(#fd8)" opacity="0.70"/>
<rect x="165.0" y="83.0" width="55.0" height="22.0" clip-path="url(#cd10)" filter="url(#fd9)" opacity="0.80"/>
<rect x="124.0" y="43.0" width="27.0" height="38.0" clip-path="url(#cd12)" filter="url(#fd11)" opacity="0.85"/>
<rect x="124.0" y="43.0" width="27.0" height="38.0" clip-path="url(#cd12)" filter="url(#fd13)" opacity="0.80"/>
<rect x="120.0" y="81.0" width="25.0" height="33.5" clip-path="url(#cd15)" filter="url(#fd14)" opacity="0.90"/>
<rect x="120.0" y="81.0" width="25.0" height="33.5" clip-path="url(#cd15)" filter="url(#fd16)" opacity="0.80"/>
<g clip-path="url(#cd21)"><g mask="url(#md17)"><rect x="1.0" y="1.0" width="219.0" height="154.0" clip-path="url(#cd2)" filter="url(#fd18)" opacity="0.90"/><rect x="1.0" y="1.0" width="219.0" height="154.0" clip-path="url(#cd2)" filter="url(#fd19)" opacity="0.90"/><rect x="1.0" y="1.0" width="219.0" height="154.0" clip-path="url(#cd2)" filter="url(#fd20)" opacity="0.90"/></g></g>
<polygon points="55.0,155.0 56.5,153.0 58.0,150.0 60.0,145.0 62.0,142.0 67.0,140.5 71.0,138.5 76.0,133.5 78.5,127.0 79.3,116.0 78.5,110.0 80.0,102.0 81.8,94.0 83.4,88.0 85.0,86.0 89.0,84.5 93.0,86.0 97.0,91.0 99.0,96.0 104.0,99.0 110.0,100.8 114.0,103.0 114.0,106.0 109.0,105.0 105.0,104.0 99.0,101.0 95.0,94.5 91.5,90.0 88.3,91.0 85.8,97.5 85.8,110.6 86.6,123.6 89.1,133.4 86.6,138.3 85.0,142.3 86.6,146.4 90.7,144.8 94.8,142.3 97.2,144.8 99.0,149.7 102.0,152.0 106.0,149.7 109.4,143.0 111.9,136.6 112.7,130.0 114.3,126.0 116.8,125.2 120.0,127.0 123.5,132.0 130.7,132.0 135.4,131.9 140.7,129.8 143.8,124.6 144.8,119.3 142.8,114.1 140.0,111.0 141.0,103.0 142.5,93.0 143.0,86.0 145.0,81.0 148.0,79.0 151.0,80.0 150.2,88.0 149.5,97.0 149.5,102.0 152.0,104.5 160.5,104.6 165.3,104.8 169.1,98.0 175.0,94.1 182.7,92.1 190.5,94.1 198.3,97.0 204.1,98.0 209.0,100.5 213.6,103.0 217.3,105.0 220.0,106.0 220.0,129.4 211.9,128.1 204.1,127.1 198.3,129.0 194.4,132.9 188.6,135.8 178.9,137.8 171.1,138.8 167.2,140.7 165.5,146.5 165.5,155.0" fill="#4860e6"/>
<g clip-path="url(#cd23)"><rect x="55.0" y="79.0" width="165.0" height="76.0" clip-path="url(#cd23)" filter="url(#fd22)"/><rect x="150.0" y="88.0" width="70.0" height="55.0" clip-path="url(#cd25)" filter="url(#fd24)"/><rect x="150.0" y="88.0" width="70.0" height="55.0" clip-path="url(#cd25)" filter="url(#fd26)"/><rect x="150.0" y="88.0" width="70.0" height="55.0" clip-path="url(#cd25)" filter="url(#fd27)"/><rect x="55.0" y="79.0" width="165.0" height="76.0" clip-path="url(#cd23)" filter="url(#fd28)"/></g>
<polygon points="55.0,155.0 56.5,153.0 58.0,150.0 60.0,145.0 62.0,142.0 67.0,140.5 71.0,138.5 76.0,133.5 78.5,127.0 79.3,116.0 78.5,110.0 80.0,102.0 81.8,94.0 83.4,88.0 85.0,86.0 89.0,84.5 93.0,86.0 97.0,91.0 99.0,96.0 104.0,99.0 110.0,100.8 114.0,103.0 114.0,106.0 109.0,105.0 105.0,104.0 99.0,101.0 95.0,94.5 91.5,90.0 88.3,91.0 85.8,97.5 85.8,110.6 86.6,123.6 89.1,133.4 86.6,138.3 85.0,142.3 86.6,146.4 90.7,144.8 94.8,142.3 97.2,144.8 99.0,149.7 102.0,152.0 106.0,149.7 109.4,143.0 111.9,136.6 112.7,130.0 114.3,126.0 116.8,125.2 120.0,127.0 123.5,132.0 130.7,132.0 135.4,131.9 140.7,129.8 143.8,124.6 144.8,119.3 142.8,114.1 140.0,111.0 141.0,103.0 142.5,93.0 143.0,86.0 145.0,81.0 148.0,79.0 151.0,80.0 150.2,88.0 149.5,97.0 149.5,102.0 152.0,104.5 160.5,104.6 165.3,104.8 169.1,98.0 175.0,94.1 182.7,92.1 190.5,94.1 198.3,97.0 204.1,98.0 209.0,100.5 213.6,103.0 217.3,105.0 220.0,106.0 220.0,129.4 211.9,128.1 204.1,127.1 198.3,129.0 194.4,132.9 188.6,135.8 178.9,137.8 171.1,138.8 167.2,140.7 165.5,146.5 165.5,155.0" fill="none" stroke="#e8e030" stroke-width="1.2" stroke-dasharray="2 3 1 4 3 2" opacity="0.8"/>
<polygon points="153.8,39.0 158.2,44.9 159.6,58.0 158.2,63.9 153.8,71.2 152.3,78.5 150.9,84.3 148.7,93.0 139.2,93.0 139.2,84.3 139.2,74.1 145.0,66.8 140.7,59.5 136.3,55.1 134.8,50.7 142.1,49.3 149.4,43.4" fill="#6a5cc0"/>
<rect x="134.8" y="39.0" width="24.8" height="54.0" clip-path="url(#cd30)" filter="url(#fd29)"/>
<rect x="134.8" y="39.0" width="24.8" height="54.0" clip-path="url(#cd30)" filter="url(#fd31)"/>
<rect x="134.8" y="39.0" width="24.8" height="54.0" clip-path="url(#cd30)" filter="url(#fd32)"/>
<polyline points="138.0,53.0 141.0,49.5 146.0,47.0 149.5,44.0 152.5,41.0 155.5,40.5 157.0,43.0 157.5,48.0 158.0,53.5 159.0,58.5 158.3,62.5 155.5,66.0 153.5,70.0 152.0,75.0 150.5,81.0 149.5,87.0" fill="none" stroke="#3a7ef0" stroke-width="4" stroke-linejoin="round" stroke-linecap="round"/>
<polygon points="104.5,6.4 106.8,6.8 110.0,11.8 111.8,17.3 109.5,20.9 109.0,27.3 108.2,33.0 107.3,36.0 105.6,38.5 103.5,40.0 102.0,37.5 101.8,33.0 102.7,29.1 102.7,23.6 100.9,18.2 101.8,13.6" fill="#4458e4"/>
<polygon points="208.8,24.0 212.0,22.9 219.5,23.0 219.5,30.5 214.0,30.0 210.0,27.0" fill="#4458e4"/>
<polygon points="216.0,32.0 219.5,32.0 219.5,39.6 215.0,38.0" fill="#4458e4"/>
<polygon points="10.2,39.0 13.9,38.8 13.5,41.8 10.5,41.8" fill="#4458e4"/>
<polygon points="87.0,5.8 88.8,5.6 88.8,7.4 87.0,7.4" fill="#4458e4"/>
<polygon points="52.4,101.6 56.5,100.0 61.4,102.4 66.3,105.7 72.8,107.3 79.3,108.1 79.3,110.8 72.8,110.8 67.9,110.0 63.0,109.0 59.8,106.8 54.9,104.3" fill="#3a78e8"/>
<polygon points="8.0,57.5 9.8,59.5 9.6,64.0 10.8,68.0 12.3,73.0 12.2,77.0 10.0,75.0 7.5,71.0 5.6,66.5 6.2,61.5" fill="#e8e030"/>
<polygon points="7.0,83.0 11.0,82.5 12.7,84.0 11.5,85.8 8.0,85.8" fill="#e8e030" opacity="0.85"/>
<polyline points="103.0,39.5 105.0,42.0 107.5,45.5 111.3,51.2" fill="none" stroke="#4a70d0" stroke-width="1" opacity="0.6"/>
<polygon points="171.5,62.0 174.0,63.0 175.5,66.5 174.0,68.0 172.0,66.0" fill="#e8d820"/>
<polyline points="167.5,33.0 168.5,39.0 174.0,40.0 180.0,39.0 183.0,38.5" fill="none" stroke="#e8d820" stroke-width="1" stroke-dasharray="2 1" opacity="0.8"/>
<g clip-path="url(#cd33)"><polygon points="98.0,5.0 114.0,5.0 114.0,17.0 98.0,23.0" fill="#a8c840" opacity="0.8"/></g>
<polygon points="104.8,9.5 106.5,9.5 107.5,13.5 106.0,14.5 105.0,13.0" fill="#fff"/>
<polyline points="111.5,1.0 113.6,3.6 114.5,10.0" fill="none" stroke="#4a70d0" stroke-width="1.8" stroke-linecap="round"/>
<polyline points="113.5,3.5 117.0,1.8 120.5,1.0" fill="none" stroke="#4a70d0" stroke-width="1.8" stroke-linecap="round"/>
<polyline points="119.5,5.0 120.3,9.0 119.5,13.0 117.3,17.3" fill="none" stroke="#4a70d0" stroke-width="1.8" stroke-linecap="round"/>
<polyline points="135.5,5.5 138.2,11.8" fill="none" stroke="#4a70d0" stroke-width="1.8" stroke-linecap="round"/>
<ellipse cx="165.3" cy="118.4" rx="3.5" ry="2.0" fill="#fff"/><ellipse cx="158.9" cy="126.1" rx="4.7" ry="3.4" fill="#fff"/><ellipse cx="156.7" cy="111.8" rx="1.8" ry="1.3" fill="#fff"/><ellipse cx="193.4" cy="125.2" rx="2.5" ry="1.0" fill="#fff"/><ellipse cx="152.5" cy="153.5" rx="4.3" ry="3.5" fill="#fff"/><polygon points="120.5,151.0 124.9,146.6 129.3,146.6 131.5,151.0 131.0,155.0 119.5,155.0" fill="#fff"/>
<rect x="0.5" y="0.5" width="220" height="155" fill="none" stroke="#cdcdcd" stroke-width="1"/>
</svg>
<div class="cb" style="left:320px;top:415px;background:linear-gradient(to right,#3e26a8 0.78%,#402ab4 2.34%,#422ec0 3.91%,#4332cb 5.47%,#4537d5 7.03%,#463cde 8.59%,#4741e5 10.16%,#4747eb 11.72%,#484df0 13.28%,#4852f4 14.84%,#4758f8 16.41%,#465efb 17.97%,#4563fd 19.53%,#4269fe 21.09%,#3e6fff 22.66%,#3875fe 24.22%,#327cfc 25.78%,#2f81fa 27.34%,#2e87f7 28.91%,#2d8cf3 30.47%,#2b91ef 32.03%,#2797eb 33.59%,#259be8 35.16%,#23a0e5 36.72%,#20a5e3 38.28%,#1ca9df 39.84%,#18addb 41.41%,#12b1d6 42.97%,#08b5d0 44.53%,#01b8ca 46.09%,#02bac3 47.66%,#0bbdbd 49.22%,#19bfb6 50.78%,#24c1ae 52.34%,#2cc4a7 53.91%,#31c69f 55.47%,#37c897 57.03%,#3fca8e 58.59%,#4acb84 60.16%,#57cc7a 61.72%,#64cd6f 63.28%,#72cd64 64.84%,#81cc59 66.41%,#8fcb4e 67.97%,#9dc943 69.53%,#abc739 71.09%,#b9c431 72.66%,#c5c22a 74.22%,#d1bf27 75.78%,#dcbd29 77.34%,#e6bb2d 78.91%,#f0ba36 80.47%,#f8ba3d 82.03%,#febe3c 83.59%,#fec338 85.16%,#fec934 86.72%,#fccf30 88.28%,#fad62d 89.84%,#f7dc2a 91.41%,#f5e327 92.97%,#f5e924 94.53%,#f6ef20 96.09%,#f7f51b 97.66%,#f9fb15 99.22%)"></div>
<div class="tm" style="left:364.0px;top:421px;height:2px;opacity:.5"></div>
<div class="tm" style="left:364.0px;top:415px;height:1px;opacity:.25"></div>
<div class="tm" style="left:408.0px;top:421px;height:2px;opacity:.5"></div>
<div class="tm" style="left:408.0px;top:415px;height:1px;opacity:.25"></div>
<div class="tm" style="left:452.0px;top:421px;height:2px;opacity:.5"></div>
<div class="tm" style="left:452.0px;top:415px;height:1px;opacity:.25"></div>
<div class="tm" style="left:496.0px;top:421px;height:2px;opacity:.5"></div>
<div class="tm" style="left:496.0px;top:415px;height:1px;opacity:.25"></div>
<div class="tk" style="left:310.5px;top:427.3px">0</div>
<div class="tk" style="left:354.5px;top:427.3px">1</div>
<div class="tk" style="left:398.5px;top:427.3px">2</div>
<div class="tk" style="left:442.5px;top:427.3px">3</div>
<div class="tk" style="left:486.5px;top:427.3px">4</div>
<div class="tk" style="left:530.5px;top:427.3px">5</div>
<div class="lab" style="left:380.5px;top:441.8px">Chl-a (mg m<sup>-3</sup>)</div>
<div class="cap" style="left:393.5px;top:452.0px">(<b>d</b>)</div>
</body></html>
